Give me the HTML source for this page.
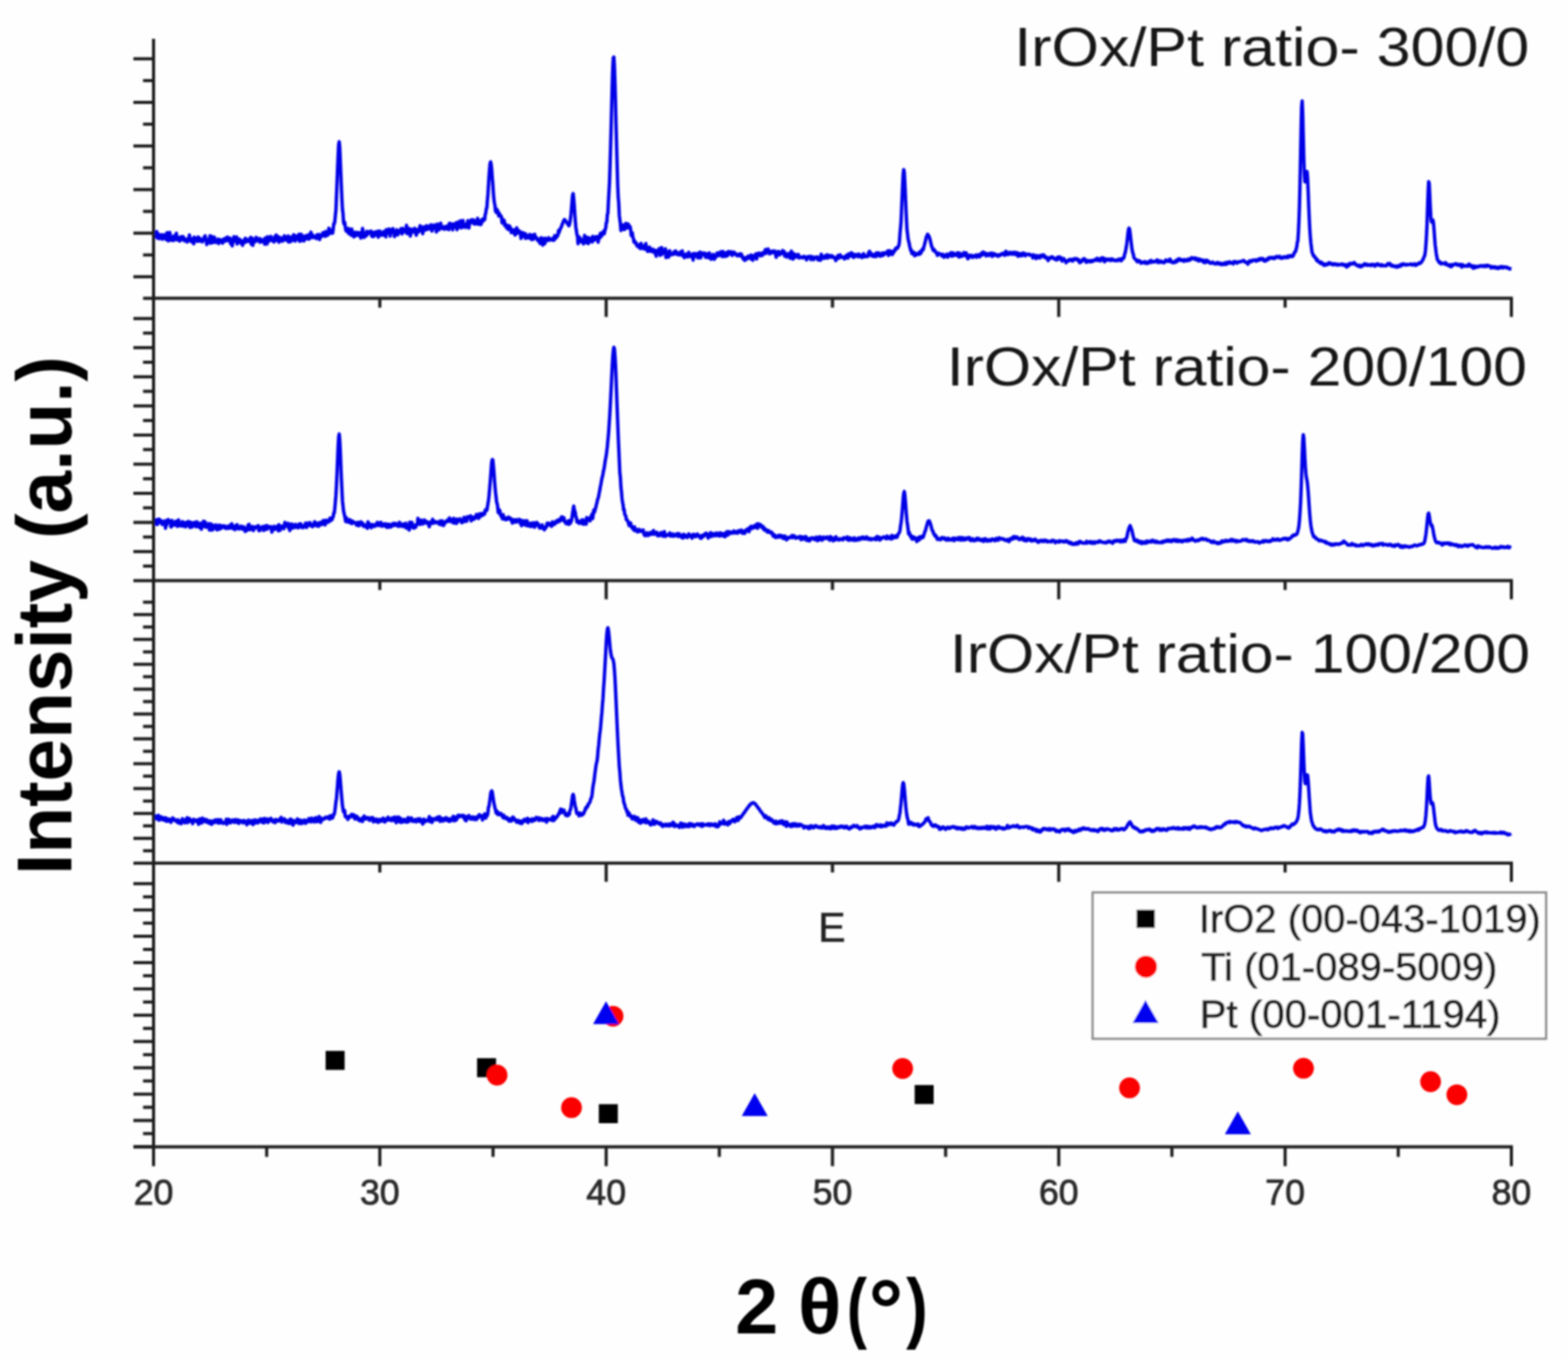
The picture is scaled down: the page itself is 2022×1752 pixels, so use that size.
<!DOCTYPE html><html><head><meta charset="utf-8"><title>XRD patterns</title><style>html,body{margin:0;padding:0;background:#fefefe;}svg{display:block;}</style></head><body><svg width="2022" height="1752" viewBox="0 0 2022 1752"><defs><filter id="soft" x="0" y="0" width="2022" height="1752" filterUnits="userSpaceOnUse" primitiveUnits="userSpaceOnUse"><feGaussianBlur stdDeviation="1.0"/></filter></defs><rect width="2022" height="1752" fill="#fefefe"/><g filter="url(#soft)"><path d="M198.0 305.2L198.7 305.6L199.4 303.4L200.1 302.5L200.8 301.6L201.5 299.6L202.2 298.7L202.9 306.9L203.6 303.2L204.3 301.8L205.0 307.7L205.7 306.0L206.4 303.4L207.1 306.0L207.8 302.7L208.5 304.3L209.2 308.4L209.9 306.4L210.6 302.7L211.3 305.6L212.0 307.0L212.7 303.4L213.4 302.5L214.1 308.8L214.8 302.6L215.5 299.9L216.2 304.2L216.9 310.6L217.6 306.5L218.3 308.0L219.0 299.7L219.7 304.6L220.4 309.6L221.1 305.2L221.8 309.9L222.5 307.3L223.2 306.8L223.9 310.1L224.6 303.9L225.3 303.9L226.0 305.5L226.7 305.9L227.4 300.8L228.1 309.2L228.8 306.7L229.5 306.0L230.2 308.5L230.9 306.0L231.6 310.7L232.3 307.7L233.0 309.6L233.7 305.2L234.4 306.9L235.1 308.7L235.8 305.0L236.5 305.8L237.2 307.4L237.9 310.6L238.6 309.6L239.3 310.0L240.0 308.3L240.7 310.0L241.4 311.9L242.1 308.2L242.8 309.2L243.5 309.8L244.2 302.9L244.9 308.4L245.6 310.0L246.3 311.2L247.0 308.4L247.7 312.1L248.4 307.8L249.1 309.1L249.8 314.3L250.5 305.8L251.2 309.3L251.9 309.0L252.6 309.1L253.3 307.8L254.0 311.0L254.7 306.3L255.4 305.7L256.1 310.8L256.8 306.4L257.5 310.9L258.2 310.2L258.9 308.4L259.6 309.5L260.3 310.3L261.0 311.8L261.7 308.6L262.4 309.6L263.1 305.9L263.8 308.8L264.5 304.0L265.2 309.1L265.9 308.0L266.6 315.2L267.3 313.2L268.0 309.5L268.7 312.9L269.4 311.3L270.1 307.4L270.8 303.9L271.5 313.5L272.2 311.4L272.9 304.8L273.6 311.9L274.3 312.7L275.0 308.3L275.7 312.4L276.4 305.6L277.1 309.7L277.8 310.4L278.5 312.4L279.2 311.3L279.9 310.7L280.6 311.6L281.3 308.2L282.0 314.0L282.7 309.0L283.4 312.1L284.1 309.9L284.8 309.3L285.5 311.6L286.2 311.1L286.9 313.5L287.6 312.8L288.3 308.3L289.0 311.3L289.7 310.2L290.4 307.8L291.1 306.9L291.8 310.5L292.5 308.2L293.2 305.7L293.9 309.3L294.6 310.2L295.3 310.1L296.0 306.7L296.7 308.7L297.4 314.2L298.1 308.5L298.8 309.8L299.5 317.0L300.2 311.6L300.9 309.2L301.6 305.1L302.3 311.1L303.0 306.3L303.7 309.9L304.4 307.6L305.1 305.4L305.8 314.5L306.5 309.7L307.2 312.5L307.9 312.1L308.6 308.2L309.3 310.6L310.0 309.6L310.7 313.5L311.4 312.4L312.1 310.6L312.8 316.3L313.5 313.3L314.2 313.2L314.9 309.6L315.6 312.5L316.3 307.1L317.0 312.1L317.7 308.1L318.4 310.9L319.1 309.5L319.8 310.9L320.5 311.3L321.2 310.3L321.9 310.5L322.6 306.9L323.3 306.0L324.0 314.8L324.7 313.0L325.4 307.3L326.1 316.4L326.8 308.9L327.5 311.8L328.2 311.3L328.9 310.1L329.6 311.4L330.3 305.9L331.0 309.5L331.7 308.9L332.4 309.8L333.1 308.7L333.8 307.8L334.5 307.7L335.2 312.3L335.9 307.9L336.6 311.5L337.3 311.6L338.0 310.5L338.7 311.8L339.4 311.9L340.1 308.7L340.8 310.8L341.5 314.8L342.2 306.6L342.9 308.6L343.6 307.3L344.3 314.6L345.0 305.3L345.7 309.0L346.4 311.3L347.1 306.3L347.8 308.1L348.5 306.6L349.2 304.9L349.9 308.4L350.6 310.1L351.3 307.8L352.0 309.3L352.7 310.7L353.4 311.9L354.1 305.2L354.8 310.0L355.5 306.5L356.2 303.0L356.9 305.9L357.6 309.8L358.3 308.9L359.0 305.1L359.7 312.4L360.4 309.1L361.1 307.8L361.8 306.5L362.5 309.1L363.2 306.9L363.9 311.0L364.6 308.8L365.3 309.6L366.0 307.1L366.7 304.0L367.4 309.5L368.1 305.4L368.8 307.8L369.5 308.0L370.2 306.0L370.9 310.5L371.6 304.3L372.3 312.1L373.0 306.6L373.7 310.7L374.4 311.5L375.1 305.7L375.8 305.9L376.5 310.4L377.2 308.3L377.9 307.9L378.6 302.6L379.3 302.9L380.0 308.6L380.7 310.7L381.4 304.8L382.1 304.4L382.8 307.3L383.5 308.1L384.2 308.5L384.9 305.9L385.6 302.0L386.3 311.1L387.0 305.9L387.7 310.7L388.4 302.0L389.1 308.4L389.8 306.0L390.5 304.4L391.2 309.7L391.9 310.5L392.6 305.3L393.3 308.6L394.0 303.9L394.7 305.0L395.4 305.9L396.1 305.4L396.8 307.8L397.5 302.7L398.2 308.3L398.9 308.1L399.6 304.9L400.3 302.3L401.0 299.3L401.7 305.6L402.4 304.1L403.1 306.3L403.8 303.3L404.5 306.0L405.2 305.7L405.9 305.8L406.6 306.3L407.3 306.1L408.0 307.6L408.7 302.7L409.4 306.5L410.1 305.1L410.8 303.6L411.5 302.2L412.2 308.9L412.9 305.7L413.6 303.7L414.3 305.0L415.0 304.5L415.7 302.7L416.4 300.0L417.1 303.5L417.8 302.3L418.5 301.6L419.2 304.7L419.9 298.4L420.6 299.2L421.3 302.0L422.0 303.5L422.7 302.5L423.4 302.4L424.1 294.3L424.8 300.9L425.5 300.3L426.2 300.7L426.9 296.7L427.6 299.4L428.3 299.9L429.0 300.4L429.7 295.2L430.4 288.5L431.1 288.6L431.8 284.9L432.5 277.2L433.2 270.8L433.9 252.5L434.6 235.8L435.3 217.9L436.0 201.0L436.7 186.7L437.4 182.6L438.1 189.7L438.8 206.0L439.5 223.6L440.2 240.8L440.9 256.8L441.6 269.9L442.3 274.7L443.0 286.0L443.7 289.1L444.4 286.3L445.1 290.9L445.8 296.3L446.5 298.0L447.2 296.9L447.9 295.7L448.6 299.5L449.3 294.5L450.0 301.2L450.7 299.7L451.4 300.4L452.1 299.0L452.8 303.2L453.5 295.1L454.2 299.1L454.9 303.1L455.6 299.8L456.3 305.4L457.0 302.6L457.7 299.4L458.4 304.1L459.1 300.9L459.8 302.6L460.5 299.6L461.2 299.8L461.9 303.5L462.6 302.2L463.3 300.2L464.0 300.0L464.7 304.0L465.4 306.9L466.1 300.0L466.8 303.8L467.5 294.4L468.2 298.4L468.9 303.7L469.6 306.1L470.3 302.1L471.0 303.2L471.7 302.2L472.4 303.9L473.1 298.1L473.8 302.3L474.5 299.3L475.2 299.5L475.9 300.3L476.6 299.7L477.3 298.3L478.0 299.7L478.7 298.0L479.4 304.5L480.1 302.6L480.8 299.9L481.5 305.1L482.2 304.2L482.9 301.9L483.6 298.9L484.3 300.6L485.0 301.1L485.7 303.0L486.4 298.9L487.1 298.0L487.8 305.7L488.5 303.6L489.2 301.0L489.9 297.9L490.6 301.6L491.3 303.2L492.0 302.2L492.7 302.3L493.4 300.2L494.1 303.0L494.8 298.5L495.5 298.9L496.2 298.8L496.9 298.5L497.6 305.3L498.3 295.9L499.0 300.9L499.7 297.6L500.4 296.7L501.1 299.9L501.8 295.2L502.5 298.6L503.2 304.4L503.9 297.9L504.6 299.2L505.3 295.9L506.0 299.5L506.7 294.7L507.4 299.4L508.1 298.9L508.8 305.0L509.5 299.3L510.2 298.6L510.9 298.1L511.6 296.3L512.3 301.3L513.0 302.8L513.7 297.7L514.4 300.2L515.1 297.2L515.8 299.1L516.5 299.4L517.2 294.8L517.9 296.8L518.6 301.6L519.3 294.4L520.0 299.3L520.7 298.2L521.4 296.4L522.1 298.5L522.8 298.8L523.5 299.0L524.2 290.4L524.9 301.2L525.6 295.4L526.3 299.1L527.0 295.9L527.7 294.6L528.4 295.9L529.1 304.3L529.8 300.2L530.5 295.4L531.2 297.0L531.9 299.4L532.6 298.1L533.3 296.9L534.0 296.4L534.7 294.3L535.4 299.3L536.1 300.3L536.8 303.3L537.5 295.9L538.2 298.7L538.9 296.5L539.6 299.3L540.3 295.5L541.0 293.8L541.7 291.0L542.4 297.1L543.1 295.5L543.8 297.8L544.5 293.3L545.2 301.2L545.9 292.4L546.6 295.4L547.3 295.0L548.0 296.7L548.7 293.4L549.4 291.4L550.1 291.1L550.8 295.8L551.5 294.1L552.2 294.8L552.9 291.8L553.6 294.3L554.3 294.4L555.0 295.3L555.7 289.8L556.4 291.5L557.1 297.9L557.8 292.4L558.5 293.3L559.2 292.6L559.9 289.9L560.6 291.0L561.3 294.8L562.0 292.1L562.7 299.1L563.4 290.1L564.1 288.9L564.8 292.7L565.5 290.2L566.2 296.4L566.9 291.2L567.6 293.0L568.3 287.7L569.0 292.9L569.7 292.9L570.4 294.7L571.1 292.4L571.8 293.6L572.5 293.2L573.2 295.5L573.9 292.3L574.6 294.9L575.3 291.9L576.0 295.0L576.7 292.2L577.4 291.0L578.1 290.7L578.8 296.0L579.5 288.0L580.2 287.9L580.9 293.1L581.6 288.6L582.3 289.6L583.0 289.4L583.7 296.4L584.4 288.8L585.1 288.9L585.8 290.0L586.5 291.8L587.2 292.6L587.9 287.5L588.6 292.4L589.3 296.2L590.0 286.5L590.7 292.6L591.4 293.0L592.1 291.3L592.8 290.3L593.5 284.6L594.2 293.6L594.9 289.6L595.6 289.8L596.3 293.4L597.0 284.2L597.7 289.8L598.4 291.1L599.1 291.0L599.8 290.1L600.5 293.3L601.2 288.6L601.9 290.4L602.6 290.0L603.3 284.5L604.0 286.6L604.7 294.0L605.4 287.8L606.1 288.1L606.8 284.4L607.5 286.4L608.2 283.3L608.9 284.7L609.6 287.2L610.3 283.5L611.0 283.9L611.7 288.9L612.4 286.8L613.1 287.1L613.8 288.5L614.5 284.8L615.2 285.5L615.9 281.5L616.6 289.0L617.3 286.8L618.0 287.6L618.7 285.0L619.4 289.5L620.1 289.4L620.8 288.0L621.5 282.9L622.2 284.0L622.9 285.1L623.6 281.9L624.3 283.6L625.0 283.3L625.7 276.5L626.4 274.7L627.1 269.1L627.8 267.9L628.5 258.4L629.2 250.7L629.9 238.8L630.6 227.4L631.3 218.3L632.0 210.8L632.7 208.7L633.4 212.4L634.1 218.8L634.8 229.1L635.5 237.2L636.2 248.3L636.9 256.6L637.6 261.6L638.3 265.0L639.0 272.5L639.7 269.1L640.4 274.3L641.1 270.3L641.8 272.0L642.5 273.4L643.2 278.5L643.9 275.2L644.6 276.7L645.3 277.6L646.0 278.7L646.7 279.5L647.4 287.1L648.1 287.5L648.8 283.2L649.5 286.5L650.2 284.2L650.9 290.8L651.6 291.4L652.3 291.1L653.0 289.7L653.7 294.5L654.4 294.7L655.1 293.2L655.8 295.9L656.5 291.0L657.2 293.3L657.9 292.7L658.6 295.6L659.3 299.8L660.0 296.0L660.7 299.1L661.4 296.6L662.1 296.3L662.8 300.6L663.5 300.1L664.2 303.0L664.9 302.3L665.6 298.0L666.3 293.7L667.0 300.5L667.7 297.3L668.4 297.0L669.1 297.1L669.8 299.6L670.5 301.1L671.2 301.9L671.9 307.4L672.6 299.5L673.3 302.8L674.0 300.0L674.7 300.9L675.4 304.0L676.1 305.1L676.8 301.0L677.5 307.2L678.2 302.0L678.9 306.7L679.6 304.1L680.3 306.7L681.0 306.2L681.7 304.4L682.4 306.7L683.1 302.3L683.8 302.5L684.5 304.7L685.2 308.7L685.9 303.1L686.6 303.2L687.3 308.7L688.0 304.6L688.7 304.5L689.4 302.1L690.1 305.2L690.8 306.9L691.5 305.8L692.2 308.4L692.9 308.0L693.6 310.4L694.3 310.4L695.0 308.6L695.7 311.4L696.4 314.0L697.1 310.2L697.8 306.4L698.5 309.8L699.2 308.9L699.9 316.1L700.6 311.8L701.3 307.4L702.0 309.8L702.7 314.0L703.4 307.3L704.1 308.7L704.8 309.7L705.5 309.2L706.2 308.1L706.9 310.1L707.6 306.5L708.3 308.8L709.0 308.8L709.7 309.3L710.4 309.0L711.1 309.3L711.8 308.0L712.5 307.4L713.2 308.9L713.9 309.8L714.6 309.4L715.3 303.7L716.0 306.6L716.7 307.3L717.4 304.3L718.1 305.5L718.8 303.0L719.5 303.4L720.2 297.3L720.9 299.8L721.6 297.6L722.3 295.6L723.0 294.0L723.7 292.9L724.4 291.0L725.1 288.8L725.8 287.5L726.5 285.4L727.2 283.9L727.9 283.0L728.6 284.1L729.3 284.5L730.0 285.4L730.7 286.5L731.4 288.3L732.1 288.2L732.8 289.2L733.5 291.1L734.2 289.8L734.9 287.1L735.6 282.0L736.3 276.4L737.0 268.4L737.7 259.2L738.4 251.7L739.1 249.5L739.8 255.7L740.5 264.2L741.2 275.6L741.9 284.9L742.6 293.0L743.3 297.3L744.0 302.7L744.7 303.7L745.4 314.2L746.1 308.1L746.8 305.4L747.5 307.8L748.2 307.4L748.9 310.7L749.6 311.7L750.3 310.7L751.0 309.8L751.7 308.9L752.4 314.4L753.1 313.2L753.8 303.4L754.5 310.2L755.2 307.7L755.9 308.5L756.6 313.0L757.3 306.0L758.0 306.0L758.7 314.0L759.4 307.0L760.1 307.6L760.8 311.0L761.5 307.3L762.2 308.8L762.9 309.3L763.6 312.0L764.3 304.7L765.0 306.3L765.7 307.6L766.4 309.7L767.1 305.7L767.8 307.9L768.5 305.2L769.2 305.1L769.9 308.6L770.6 304.9L771.3 312.3L772.0 306.1L772.7 307.7L773.4 306.6L774.1 300.9L774.8 300.6L775.5 304.8L776.2 300.5L776.9 301.0L777.6 300.6L778.3 298.1L779.0 301.7L779.7 299.1L780.4 295.7L781.1 293.9L781.8 287.1L782.5 286.7L783.2 276.8L783.9 274.7L784.6 259.6L785.3 247.1L786.0 235.0L786.7 212.9L787.4 188.8L788.1 163.6L788.8 135.7L789.5 109.0L790.2 87.3L790.9 74.2L791.6 73.5L792.3 84.8L793.0 105.8L793.7 131.9L794.4 160.7L795.1 186.0L795.8 211.3L796.5 236.7L797.2 253.6L797.9 261.9L798.6 277.4L799.3 283.0L800.0 288.3L800.7 297.2L801.4 292.6L802.1 295.0L802.8 291.8L803.5 290.0L804.2 295.7L804.9 295.8L805.6 295.8L806.3 294.0L807.0 287.9L807.7 292.3L808.4 293.3L809.1 294.0L809.8 288.6L810.5 289.4L811.2 291.1L811.9 292.8L812.6 292.4L813.3 296.4L814.0 303.6L814.7 299.8L815.4 300.2L816.1 305.9L816.8 307.4L817.5 312.0L818.2 310.4L818.9 313.0L819.6 312.6L820.3 313.1L821.0 316.7L821.7 316.7L822.4 316.7L823.1 318.4L823.8 315.7L824.5 317.7L825.2 318.2L825.9 320.5L826.6 313.8L827.3 317.4L828.0 319.5L828.7 317.6L829.4 319.4L830.1 320.9L830.8 320.7L831.5 316.0L832.2 317.3L832.9 313.9L833.6 321.8L834.3 321.2L835.0 324.0L835.7 321.4L836.4 318.9L837.1 323.9L837.8 318.7L838.5 321.7L839.2 321.4L839.9 323.8L840.6 324.4L841.3 321.8L842.0 321.4L842.7 323.2L843.4 322.4L844.1 326.0L844.8 325.0L845.5 327.5L846.2 330.3L846.9 322.8L847.6 323.3L848.3 325.5L849.0 325.1L849.7 323.3L850.4 320.3L851.1 329.4L851.8 324.2L852.5 321.7L853.2 319.2L853.9 327.7L854.6 325.6L855.3 325.1L856.0 323.0L856.7 325.2L857.4 324.9L858.1 320.7L858.8 332.1L859.5 327.6L860.2 326.0L860.9 324.6L861.6 325.2L862.3 331.5L863.0 327.0L863.7 323.3L864.4 328.2L865.1 327.7L865.8 328.2L866.5 327.1L867.2 327.2L867.9 328.0L868.6 327.0L869.3 324.4L870.0 325.1L870.7 327.1L871.4 323.6L872.1 326.6L872.8 326.1L873.5 328.3L874.2 327.0L874.9 326.0L875.6 326.0L876.3 327.6L877.0 328.8L877.7 324.9L878.4 324.3L879.1 326.3L879.8 323.5L880.5 327.1L881.2 330.7L881.9 331.1L882.6 332.2L883.3 329.0L884.0 329.2L884.7 327.6L885.4 327.9L886.1 329.8L886.8 331.2L887.5 330.3L888.2 325.2L888.9 330.5L889.6 329.6L890.3 328.4L891.0 329.9L891.7 331.2L892.4 329.4L893.1 327.2L893.8 335.3L894.5 326.9L895.2 329.1L895.9 330.9L896.6 326.8L897.3 330.0L898.0 327.4L898.7 328.7L899.4 327.6L900.1 332.6L900.8 326.1L901.5 329.9L902.2 329.0L902.9 324.9L903.6 332.5L904.3 327.6L905.0 328.1L905.7 328.8L906.4 326.2L907.1 326.3L907.8 327.9L908.5 326.4L909.2 328.9L909.9 331.8L910.6 327.7L911.3 327.0L912.0 330.3L912.7 331.6L913.4 332.2L914.1 328.6L914.8 326.1L915.5 332.7L916.2 332.5L916.9 334.2L917.6 329.4L918.3 332.5L919.0 333.5L919.7 327.9L920.4 333.6L921.1 334.2L921.8 332.3L922.5 331.9L923.2 331.8L923.9 329.2L924.6 326.2L925.3 326.7L926.0 327.7L926.7 326.1L927.4 329.7L928.1 326.9L928.8 327.7L929.5 324.6L930.2 329.0L930.9 326.7L931.6 330.9L932.3 324.3L933.0 328.1L933.7 326.5L934.4 326.5L935.1 330.6L935.8 329.2L936.5 325.7L937.2 330.1L937.9 326.2L938.6 329.0L939.3 324.1L940.0 326.9L940.7 327.0L941.4 327.1L942.1 324.9L942.8 324.5L943.5 328.2L944.2 329.3L944.9 327.9L945.6 327.2L946.3 324.9L947.0 327.3L947.7 326.8L948.4 326.7L949.1 328.6L949.8 328.9L950.5 329.6L951.2 328.7L951.9 328.0L952.6 329.5L953.3 329.5L954.0 327.2L954.7 329.9L955.4 327.8L956.1 327.6L956.8 330.2L957.5 331.0L958.2 333.8L958.9 332.1L959.6 333.9L960.3 335.7L961.0 333.3L961.7 333.9L962.4 331.7L963.1 334.2L963.8 332.5L964.5 332.3L965.2 329.9L965.9 330.2L966.6 330.6L967.3 332.0L968.0 333.8L968.7 328.8L969.4 330.9L970.1 330.8L970.8 335.5L971.5 330.7L972.2 329.9L972.9 332.1L973.6 328.5L974.3 331.5L975.0 327.2L975.7 333.9L976.4 329.7L977.1 328.5L977.8 326.4L978.5 328.2L979.2 328.3L979.9 326.6L980.6 329.9L981.3 326.8L982.0 327.4L982.7 327.5L983.4 329.1L984.1 325.6L984.8 326.2L985.5 326.3L986.2 326.5L986.9 321.7L987.6 326.9L988.3 324.3L989.0 323.0L989.7 324.2L990.4 320.9L991.1 323.2L991.8 325.1L992.5 327.3L993.2 324.6L993.9 325.3L994.6 324.0L995.3 326.0L996.0 323.8L996.7 325.6L997.4 324.4L998.1 323.5L998.8 323.7L999.5 324.6L1000.2 328.0L1000.9 331.7L1001.6 325.6L1002.3 324.5L1003.0 326.6L1003.7 326.3L1004.4 324.3L1005.1 328.7L1005.8 326.8L1006.5 326.9L1007.2 325.3L1007.9 325.4L1008.6 326.9L1009.3 322.9L1010.0 324.3L1010.7 326.4L1011.4 324.3L1012.1 330.4L1012.8 327.0L1013.5 327.7L1014.2 329.3L1014.9 331.4L1015.6 328.6L1016.3 327.2L1017.0 326.8L1017.7 328.9L1018.4 327.6L1019.1 333.0L1019.8 331.3L1020.5 323.8L1021.2 328.0L1021.9 330.5L1022.6 334.1L1023.3 326.6L1024.0 329.3L1024.7 332.0L1025.4 328.5L1026.1 329.8L1026.8 328.9L1027.5 331.1L1028.2 328.3L1028.9 330.5L1029.6 328.1L1030.3 332.6L1031.0 332.2L1031.7 331.4L1032.4 331.8L1033.1 332.0L1033.8 331.3L1034.5 332.2L1035.2 332.4L1035.9 331.5L1036.6 330.6L1037.3 331.0L1038.0 330.9L1038.7 332.6L1039.4 332.1L1040.1 335.1L1040.8 331.5L1041.5 331.9L1042.2 330.8L1042.9 332.1L1043.6 331.2L1044.3 330.5L1045.0 332.2L1045.7 334.7L1046.4 330.6L1047.1 331.1L1047.8 332.3L1048.5 332.9L1049.2 334.8L1049.9 331.7L1050.6 332.6L1051.3 331.6L1052.0 331.6L1052.7 332.3L1053.4 331.2L1054.1 333.9L1054.8 334.8L1055.5 332.1L1056.2 331.8L1056.9 335.3L1057.6 332.7L1058.3 335.4L1059.0 327.8L1059.7 331.9L1060.4 330.1L1061.1 330.5L1061.8 332.6L1062.5 333.0L1063.2 330.9L1063.9 332.8L1064.6 329.4L1065.3 331.7L1066.0 331.0L1066.7 328.4L1067.4 332.7L1068.1 330.0L1068.8 331.6L1069.5 329.4L1070.2 330.7L1070.9 331.3L1071.6 330.2L1072.3 329.5L1073.0 331.6L1073.7 331.3L1074.4 330.7L1075.1 332.0L1075.8 332.2L1076.5 332.2L1077.2 334.5L1077.9 335.9L1078.6 332.1L1079.3 332.4L1080.0 330.6L1080.7 329.4L1081.4 333.0L1082.1 329.8L1082.8 331.3L1083.5 328.6L1084.2 329.8L1084.9 331.7L1085.6 331.7L1086.3 331.4L1087.0 331.6L1087.7 331.3L1088.4 332.6L1089.1 333.8L1089.8 331.9L1090.5 330.9L1091.2 329.3L1091.9 330.1L1092.6 330.2L1093.3 332.8L1094.0 327.5L1094.7 328.3L1095.4 327.5L1096.1 330.3L1096.8 327.7L1097.5 326.0L1098.2 325.9L1098.9 330.0L1099.6 327.1L1100.3 331.7L1101.0 331.8L1101.7 328.4L1102.4 329.7L1103.1 330.4L1103.8 328.0L1104.5 328.5L1105.2 329.5L1105.9 330.5L1106.6 331.0L1107.3 327.5L1108.0 330.7L1108.7 329.9L1109.4 329.5L1110.1 329.0L1110.8 331.2L1111.5 332.0L1112.2 328.7L1112.9 329.2L1113.6 327.0L1114.3 329.1L1115.0 331.0L1115.7 329.9L1116.4 330.6L1117.1 329.9L1117.8 330.0L1118.5 330.7L1119.2 330.6L1119.9 326.0L1120.6 328.4L1121.3 323.9L1122.0 328.1L1122.7 327.0L1123.4 326.7L1124.1 330.0L1124.8 328.3L1125.5 329.7L1126.2 329.1L1126.9 330.8L1127.6 327.8L1128.3 327.6L1129.0 327.4L1129.7 330.8L1130.4 325.9L1131.1 326.3L1131.8 328.2L1132.5 327.7L1133.2 326.0L1133.9 329.9L1134.6 328.5L1135.3 330.3L1136.0 329.1L1136.7 329.2L1137.4 326.6L1138.1 329.6L1138.8 326.1L1139.5 327.0L1140.2 328.3L1140.9 325.9L1141.6 326.4L1142.3 326.1L1143.0 326.2L1143.7 326.8L1144.4 323.7L1145.1 325.3L1145.8 329.3L1146.5 323.3L1147.2 325.4L1147.9 327.6L1148.6 323.7L1149.3 325.0L1150.0 324.9L1150.7 328.2L1151.4 324.2L1152.1 325.9L1152.8 323.4L1153.5 323.8L1154.2 321.5L1154.9 320.4L1155.6 321.3L1156.3 319.3L1157.0 320.1L1157.7 319.2L1158.4 317.7L1159.1 316.5L1159.8 312.1L1160.5 302.3L1161.2 294.2L1161.9 286.5L1162.6 270.7L1163.3 254.5L1164.0 238.5L1164.7 224.3L1165.4 218.6L1166.1 221.9L1166.8 234.7L1167.5 250.5L1168.2 267.5L1168.9 282.3L1169.6 295.9L1170.3 301.2L1171.0 308.0L1171.7 310.9L1172.4 313.5L1173.1 317.5L1173.8 320.2L1174.5 323.3L1175.2 322.2L1175.9 326.8L1176.6 325.4L1177.3 327.3L1178.0 326.3L1178.7 325.3L1179.4 329.7L1180.1 327.1L1180.8 329.1L1181.5 327.0L1182.2 328.3L1182.9 327.3L1183.6 326.9L1184.3 327.0L1185.0 327.9L1185.7 324.8L1186.4 324.8L1187.1 327.1L1187.8 324.1L1188.5 324.6L1189.2 321.5L1189.9 321.8L1190.6 321.9L1191.3 318.3L1192.0 316.1L1192.7 313.3L1193.4 310.7L1194.1 307.3L1194.8 304.9L1195.5 303.7L1196.2 302.0L1196.9 303.1L1197.6 304.1L1198.3 305.3L1199.0 307.5L1199.7 310.1L1200.4 313.7L1201.1 316.1L1201.8 318.8L1202.5 319.6L1203.2 322.6L1203.9 323.0L1204.6 321.6L1205.3 323.7L1206.0 323.7L1206.7 325.3L1207.4 325.8L1208.1 326.7L1208.8 329.3L1209.5 327.0L1210.2 326.3L1210.9 327.2L1211.6 327.5L1212.3 327.4L1213.0 328.0L1213.7 327.7L1214.4 329.9L1215.1 329.8L1215.8 327.9L1216.5 330.7L1217.2 331.6L1217.9 329.9L1218.6 328.8L1219.3 330.5L1220.0 329.5L1220.7 329.7L1221.4 327.6L1222.1 331.6L1222.8 328.5L1223.5 329.5L1224.2 328.2L1224.9 329.4L1225.6 326.2L1226.3 327.6L1227.0 325.9L1227.7 330.3L1228.4 326.8L1229.1 326.2L1229.8 329.4L1230.5 327.0L1231.2 327.4L1231.9 329.0L1232.6 328.3L1233.3 328.2L1234.0 328.9L1234.7 325.8L1235.4 330.3L1236.1 330.6L1236.8 331.4L1237.5 326.2L1238.2 327.8L1238.9 327.9L1239.6 330.6L1240.3 328.8L1241.0 330.1L1241.7 328.2L1242.4 326.6L1243.1 325.6L1243.8 326.6L1244.5 329.4L1245.2 326.8L1245.9 326.0L1246.6 329.4L1247.3 331.5L1248.0 333.6L1248.7 332.5L1249.4 332.5L1250.1 328.9L1250.8 330.5L1251.5 330.3L1252.2 330.7L1252.9 329.2L1253.6 331.3L1254.3 331.9L1255.0 330.3L1255.7 329.7L1256.4 330.2L1257.1 330.3L1257.8 330.8L1258.5 328.7L1259.2 331.7L1259.9 329.8L1260.6 329.5L1261.3 330.4L1262.0 328.3L1262.7 329.9L1263.4 331.1L1264.1 328.5L1264.8 327.8L1265.5 326.6L1266.2 328.9L1266.9 328.3L1267.6 324.9L1268.3 328.1L1269.0 326.3L1269.7 326.0L1270.4 327.8L1271.1 327.4L1271.8 329.9L1272.5 327.0L1273.2 327.0L1273.9 327.5L1274.6 328.5L1275.3 329.3L1276.0 327.2L1276.7 327.6L1277.4 326.4L1278.1 327.9L1278.8 326.7L1279.5 330.6L1280.2 330.2L1280.9 326.6L1281.6 328.0L1282.3 328.5L1283.0 327.5L1283.7 328.0L1284.4 329.5L1285.1 328.5L1285.8 328.6L1286.5 328.9L1287.2 330.4L1287.9 328.5L1288.6 329.1L1289.3 328.8L1290.0 329.1L1290.7 327.8L1291.4 327.3L1292.1 326.9L1292.8 327.8L1293.5 327.4L1294.2 326.6L1294.9 326.9L1295.6 329.2L1296.3 327.1L1297.0 324.0L1297.7 327.9L1298.4 326.7L1299.1 325.4L1299.8 328.3L1300.5 326.5L1301.2 327.6L1301.9 325.4L1302.6 327.3L1303.3 325.8L1304.0 327.4L1304.7 327.6L1305.4 325.5L1306.1 327.5L1306.8 327.8L1307.5 327.3L1308.2 325.2L1308.9 327.5L1309.6 326.7L1310.3 328.4L1311.0 325.7L1311.7 328.1L1312.4 327.3L1313.1 330.4L1313.8 326.6L1314.5 329.2L1315.2 327.7L1315.9 327.3L1316.6 329.7L1317.3 329.1L1318.0 329.5L1318.7 326.2L1319.4 326.5L1320.1 328.4L1320.8 326.6L1321.5 329.1L1322.2 329.6L1322.9 327.6L1323.6 328.0L1324.3 328.1L1325.0 327.8L1325.7 328.1L1326.4 327.8L1327.1 328.7L1327.8 328.0L1328.5 328.1L1329.2 328.8L1329.9 328.9L1330.6 329.8L1331.3 330.7L1332.0 332.6L1332.7 328.5L1333.4 329.0L1334.1 330.7L1334.8 331.0L1335.5 331.1L1336.2 333.5L1336.9 329.4L1337.6 331.3L1338.3 330.1L1339.0 331.2L1339.7 332.1L1340.4 329.8L1341.1 332.5L1341.8 330.2L1342.5 329.8L1343.2 328.8L1343.9 329.6L1344.6 329.3L1345.3 331.0L1346.0 328.5L1346.7 330.7L1347.4 331.8L1348.1 331.1L1348.8 332.7L1349.5 331.5L1350.2 333.2L1350.9 332.8L1351.6 335.9L1352.3 333.2L1353.0 332.9L1353.7 333.3L1354.4 331.7L1355.1 331.5L1355.8 331.8L1356.5 332.4L1357.2 331.1L1357.9 332.2L1358.6 332.4L1359.3 333.7L1360.0 334.0L1360.7 333.6L1361.4 333.5L1362.1 335.1L1362.8 332.2L1363.5 334.8L1364.2 333.5L1364.9 331.2L1365.6 333.1L1366.3 331.6L1367.0 333.4L1367.7 331.7L1368.4 335.1L1369.1 333.8L1369.8 336.6L1370.5 334.0L1371.2 334.9L1371.9 333.4L1372.6 334.9L1373.3 335.3L1374.0 336.2L1374.7 338.7L1375.4 338.0L1376.1 337.2L1376.8 336.0L1377.5 335.8L1378.2 335.5L1378.9 334.6L1379.6 335.9L1380.3 334.9L1381.0 335.3L1381.7 334.4L1382.4 335.1L1383.1 336.5L1383.8 335.0L1384.5 335.4L1385.2 333.4L1385.9 333.9L1386.6 333.5L1387.3 334.4L1388.0 334.4L1388.7 333.7L1389.4 335.3L1390.1 335.8L1390.8 334.7L1391.5 336.9L1392.2 338.5L1392.9 336.3L1393.6 338.2L1394.3 337.3L1395.0 336.2L1395.7 335.9L1396.4 334.2L1397.1 335.6L1397.8 333.4L1398.5 333.9L1399.2 336.0L1399.9 334.6L1400.6 338.2L1401.3 336.8L1402.0 337.5L1402.7 337.6L1403.4 336.1L1404.1 336.4L1404.8 336.7L1405.5 336.1L1406.2 337.6L1406.9 337.0L1407.6 336.0L1408.3 337.1L1409.0 335.9L1409.7 336.7L1410.4 336.1L1411.1 335.6L1411.8 334.8L1412.5 334.8L1413.2 335.4L1413.9 335.6L1414.6 332.9L1415.3 334.6L1416.0 335.7L1416.7 334.9L1417.4 334.0L1418.1 334.0L1418.8 336.5L1419.5 333.1L1420.2 334.1L1420.9 335.1L1421.6 332.2L1422.3 334.9L1423.0 332.8L1423.7 335.5L1424.4 337.4L1425.1 333.7L1425.8 334.9L1426.5 335.4L1427.2 334.4L1427.9 335.4L1428.6 334.1L1429.3 334.2L1430.0 334.0L1430.7 334.8L1431.4 335.4L1432.1 335.9L1432.8 334.8L1433.5 333.7L1434.2 334.3L1434.9 334.3L1435.6 334.6L1436.3 335.8L1437.0 335.4L1437.7 335.9L1438.4 335.9L1439.1 335.8L1439.8 335.3L1440.5 336.2L1441.2 335.2L1441.9 335.1L1442.6 334.1L1443.3 334.6L1444.0 334.8L1444.7 336.0L1445.4 333.7L1446.1 335.9L1446.8 334.9L1447.5 333.6L1448.2 332.7L1448.9 333.0L1449.6 331.3L1450.3 327.3L1451.0 325.9L1451.7 322.1L1452.4 318.5L1453.1 313.6L1453.8 307.7L1454.5 301.2L1455.2 296.1L1455.9 294.1L1456.6 295.3L1457.3 300.0L1458.0 306.5L1458.7 312.6L1459.4 318.2L1460.1 323.2L1460.8 326.1L1461.5 327.9L1462.2 331.9L1462.9 333.1L1463.6 333.9L1464.3 334.2L1465.0 335.4L1465.7 335.7L1466.4 337.4L1467.1 335.6L1467.8 337.2L1468.5 337.0L1469.2 336.0L1469.9 337.7L1470.6 337.0L1471.3 339.3L1472.0 339.1L1472.7 338.3L1473.4 338.2L1474.1 338.0L1474.8 338.0L1475.5 338.9L1476.2 337.2L1476.9 339.3L1477.6 338.9L1478.3 338.0L1479.0 338.5L1479.7 339.7L1480.4 337.7L1481.1 338.9L1481.8 337.0L1482.5 336.8L1483.2 338.3L1483.9 335.7L1484.6 338.3L1485.3 337.3L1486.0 336.7L1486.7 337.1L1487.4 336.9L1488.1 337.8L1488.8 337.4L1489.5 336.9L1490.2 336.6L1490.9 336.1L1491.6 337.3L1492.3 335.0L1493.0 338.3L1493.7 337.6L1494.4 336.3L1495.1 338.3L1495.8 337.2L1496.5 337.6L1497.2 336.5L1497.9 337.4L1498.6 338.2L1499.3 338.0L1500.0 338.4L1500.7 337.5L1501.4 338.6L1502.1 336.8L1502.8 337.3L1503.5 335.1L1504.2 336.7L1504.9 336.1L1505.6 336.1L1506.3 336.4L1507.0 336.9L1507.7 334.7L1508.4 335.5L1509.1 334.1L1509.8 337.6L1510.5 337.6L1511.2 337.4L1511.9 338.5L1512.6 338.6L1513.3 337.5L1514.0 338.5L1514.7 338.5L1515.4 337.6L1516.1 336.3L1516.8 335.6L1517.5 337.5L1518.2 335.5L1518.9 335.5L1519.6 333.7L1520.3 335.3L1521.0 334.8L1521.7 333.9L1522.4 335.7L1523.1 334.9L1523.8 335.7L1524.5 335.8L1525.2 335.0L1525.9 335.9L1526.6 336.8L1527.3 334.8L1528.0 334.9L1528.7 335.0L1529.4 336.3L1530.1 335.2L1530.8 335.6L1531.5 336.0L1532.2 333.9L1532.9 335.7L1533.6 334.3L1534.3 333.9L1535.0 335.0L1535.7 333.9L1536.4 332.3L1537.1 333.1L1537.8 332.5L1538.5 333.2L1539.2 332.7L1539.9 333.0L1540.6 334.3L1541.3 332.5L1542.0 334.5L1542.7 334.5L1543.4 335.3L1544.1 333.4L1544.8 334.6L1545.5 335.0L1546.2 336.5L1546.9 334.1L1547.6 334.3L1548.3 335.2L1549.0 335.8L1549.7 335.4L1550.4 336.3L1551.1 335.2L1551.8 337.9L1552.5 336.4L1553.2 336.7L1553.9 338.6L1554.6 335.9L1555.3 335.3L1556.0 335.5L1556.7 337.7L1557.4 336.6L1558.1 336.5L1558.8 337.6L1559.5 338.0L1560.2 339.2L1560.9 339.3L1561.6 339.2L1562.3 339.3L1563.0 338.3L1563.7 337.9L1564.4 339.3L1565.1 339.6L1565.8 339.6L1566.5 339.9L1567.2 340.3L1567.9 339.1L1568.6 339.6L1569.3 339.2L1570.0 338.4L1570.7 340.1L1571.4 339.5L1572.1 340.0L1572.8 340.2L1573.5 339.1L1574.2 341.0L1574.9 340.2L1575.6 340.8L1576.3 341.2L1577.0 339.6L1577.7 339.5L1578.4 340.1L1579.1 340.8L1579.8 340.8L1580.5 338.4L1581.2 340.8L1581.9 339.3L1582.6 339.8L1583.3 338.3L1584.0 338.5L1584.7 339.2L1585.4 337.5L1586.1 339.2L1586.8 338.2L1587.5 338.7L1588.2 338.7L1588.9 338.2L1589.6 339.6L1590.3 340.3L1591.0 339.0L1591.7 337.1L1592.4 338.1L1593.1 337.7L1593.8 338.3L1594.5 337.7L1595.2 339.2L1595.9 338.3L1596.6 338.3L1597.3 337.7L1598.0 337.2L1598.7 337.6L1599.4 337.6L1600.1 337.5L1600.8 337.0L1601.5 336.4L1602.2 336.4L1602.9 336.0L1603.6 335.7L1604.3 336.0L1605.0 337.4L1605.7 338.0L1606.4 337.7L1607.1 338.1L1607.8 338.8L1608.5 338.4L1609.2 340.6L1609.9 338.3L1610.6 337.5L1611.3 336.2L1612.0 337.3L1612.7 337.5L1613.4 336.4L1614.1 337.0L1614.8 335.6L1615.5 335.8L1616.2 335.8L1616.9 335.5L1617.6 335.2L1618.3 335.6L1619.0 335.0L1619.7 336.7L1620.4 335.9L1621.1 335.6L1621.8 334.9L1622.5 335.6L1623.2 334.0L1623.9 335.4L1624.6 334.8L1625.3 333.3L1626.0 333.5L1626.7 334.1L1627.4 334.5L1628.1 333.2L1628.8 333.6L1629.5 336.0L1630.2 335.3L1630.9 335.6L1631.6 336.7L1632.3 335.8L1633.0 335.1L1633.7 333.9L1634.4 335.3L1635.1 333.4L1635.8 334.2L1636.5 332.0L1637.2 332.8L1637.9 333.0L1638.6 332.1L1639.3 332.6L1640.0 332.3L1640.7 332.9L1641.4 331.8L1642.1 332.4L1642.8 333.3L1643.5 333.0L1644.2 333.0L1644.9 331.6L1645.6 330.7L1646.3 330.9L1647.0 331.1L1647.7 330.9L1648.4 331.9L1649.1 330.7L1649.8 331.3L1650.5 330.7L1651.2 331.7L1651.9 333.0L1652.6 332.3L1653.3 332.7L1654.0 332.4L1654.7 332.5L1655.4 331.0L1656.1 331.7L1656.8 331.7L1657.5 332.0L1658.2 332.2L1658.9 330.9L1659.6 330.3L1660.3 330.8L1661.0 332.0L1661.7 330.2L1662.4 329.8L1663.1 329.7L1663.8 329.5L1664.5 330.8L1665.2 329.7L1665.9 329.6L1666.6 330.6L1667.3 329.9L1668.0 329.1L1668.7 327.0L1669.4 325.0L1670.1 324.8L1670.8 324.1L1671.5 320.7L1672.2 318.3L1672.9 312.8L1673.6 310.7L1674.3 300.5L1675.0 285.4L1675.7 265.7L1676.4 237.1L1677.1 202.8L1677.8 166.6L1678.5 137.6L1679.2 130.2L1679.9 146.3L1680.6 175.0L1681.3 203.6L1682.0 224.2L1682.7 234.2L1683.4 234.5L1684.1 228.8L1684.8 222.1L1685.5 221.2L1686.2 229.5L1686.9 245.4L1687.6 264.0L1688.3 280.9L1689.0 294.8L1689.7 305.2L1690.4 313.3L1691.1 318.4L1691.8 324.8L1692.5 326.4L1693.2 328.4L1693.9 330.0L1694.6 329.8L1695.3 331.1L1696.0 332.6L1696.7 332.5L1697.4 333.9L1698.1 335.9L1698.8 334.7L1699.5 336.3L1700.2 337.4L1700.9 337.9L1701.6 338.3L1702.3 338.1L1703.0 339.6L1703.7 337.8L1704.4 340.1L1705.1 339.2L1705.8 340.1L1706.5 340.7L1707.2 342.1L1707.9 340.5L1708.6 340.2L1709.3 341.8L1710.0 340.9L1710.7 340.8L1711.4 341.0L1712.1 341.1L1712.8 340.4L1713.5 338.7L1714.2 339.8L1714.9 339.9L1715.6 339.1L1716.3 339.4L1717.0 340.8L1717.7 340.8L1718.4 340.3L1719.1 341.4L1719.8 341.1L1720.5 340.1L1721.2 340.8L1721.9 340.2L1722.6 340.6L1723.3 341.5L1724.0 340.6L1724.7 340.6L1725.4 341.7L1726.1 340.8L1726.8 341.2L1727.5 341.2L1728.2 341.1L1728.9 341.3L1729.6 340.6L1730.3 340.2L1731.0 340.4L1731.7 341.6L1732.4 341.6L1733.1 341.1L1733.8 342.3L1734.5 342.2L1735.2 341.3L1735.9 343.2L1736.6 344.2L1737.3 342.5L1738.0 341.0L1738.7 342.9L1739.4 342.0L1740.1 341.2L1740.8 339.6L1741.5 340.6L1742.2 340.1L1742.9 339.8L1743.6 339.5L1744.3 340.2L1745.0 339.2L1745.7 339.8L1746.4 338.5L1747.1 339.5L1747.8 340.7L1748.5 340.7L1749.2 341.9L1749.9 342.3L1750.6 342.7L1751.3 342.5L1752.0 343.2L1752.7 341.9L1753.4 342.6L1754.1 343.9L1754.8 342.7L1755.5 343.8L1756.2 342.8L1756.9 342.0L1757.6 341.7L1758.3 342.2L1759.0 340.6L1759.7 340.0L1760.4 341.1L1761.1 341.4L1761.8 341.8L1762.5 340.6L1763.2 342.1L1763.9 342.1L1764.6 341.8L1765.3 341.5L1766.0 341.8L1766.7 341.2L1767.4 341.1L1768.1 342.4L1768.8 341.2L1769.5 340.7L1770.2 341.1L1770.9 341.5L1771.6 341.0L1772.3 342.8L1773.0 343.1L1773.7 341.3L1774.4 342.0L1775.1 340.7L1775.8 340.7L1776.5 340.0L1777.2 341.1L1777.9 342.0L1778.6 342.1L1779.3 341.7L1780.0 341.3L1780.7 342.3L1781.4 342.8L1782.1 341.4L1782.8 342.4L1783.5 342.5L1784.2 342.4L1784.9 342.3L1785.6 342.4L1786.3 342.8L1787.0 342.5L1787.7 341.9L1788.4 342.2L1789.1 340.5L1789.8 339.8L1790.5 339.8L1791.2 340.8L1791.9 340.4L1792.6 339.9L1793.3 341.9L1794.0 342.7L1794.7 342.3L1795.4 343.0L1796.1 342.1L1796.8 342.3L1797.5 343.5L1798.2 343.7L1798.9 343.5L1799.6 343.4L1800.3 343.2L1801.0 344.4L1801.7 342.9L1802.4 343.3L1803.1 344.0L1803.8 342.6L1804.5 343.3L1805.2 343.0L1805.9 343.2L1806.6 340.8L1807.3 341.7L1808.0 340.9L1808.7 341.6L1809.4 340.5L1810.1 340.0L1810.8 341.0L1811.5 341.0L1812.2 341.5L1812.9 341.7L1813.6 341.6L1814.3 340.8L1815.0 341.3L1815.7 341.2L1816.4 341.1L1817.1 341.0L1817.8 340.8L1818.5 340.5L1819.2 340.9L1819.9 340.4L1820.6 340.6L1821.3 341.7L1822.0 341.1L1822.7 341.4L1823.4 340.9L1824.1 340.2L1824.8 341.0L1825.5 342.2L1826.2 341.0L1826.9 340.5L1827.6 341.1L1828.3 340.2L1829.0 339.9L1829.7 339.1L1830.4 338.8L1831.1 339.7L1831.8 339.1L1832.5 338.3L1833.2 337.9L1833.9 336.3L1834.6 335.5L1835.3 333.8L1836.0 332.3L1836.7 330.4L1837.4 328.6L1838.1 323.7L1838.8 315.1L1839.5 304.0L1840.2 288.8L1840.9 268.3L1841.6 247.7L1842.3 234.2L1843.0 236.2L1843.7 250.2L1844.4 266.5L1845.1 279.2L1845.8 285.4L1846.5 286.4L1847.2 284.3L1847.9 283.9L1848.6 288.2L1849.3 296.8L1850.0 306.7L1850.7 315.5L1851.4 321.0L1852.1 326.8L1852.8 330.6L1853.5 334.6L1854.2 335.3L1854.9 336.4L1855.6 338.2L1856.3 337.9L1857.0 339.1L1857.7 338.2L1858.4 340.2L1859.1 339.2L1859.8 339.5L1860.5 339.4L1861.2 339.6L1861.9 339.7L1862.6 339.6L1863.3 340.6L1864.0 338.6L1864.7 339.4L1865.4 340.2L1866.1 340.6L1866.8 341.9L1867.5 341.7L1868.2 341.6L1868.9 341.4L1869.6 343.3L1870.3 342.8L1871.0 343.9L1871.7 341.3L1872.4 343.2L1873.1 341.8L1873.8 341.1L1874.5 341.4L1875.2 341.2L1875.9 340.8L1876.6 340.1L1877.3 340.9L1878.0 340.5L1878.7 341.5L1879.4 340.7L1880.1 341.7L1880.8 341.2L1881.5 342.1L1882.2 341.1L1882.9 340.9L1883.6 341.0L1884.3 342.1L1885.0 344.4L1885.7 341.1L1886.4 341.5L1887.1 342.9L1887.8 342.4L1888.5 343.0L1889.2 342.7L1889.9 343.1L1890.6 343.0L1891.3 342.3L1892.0 343.1L1892.7 342.2L1893.4 342.9L1894.1 340.5L1894.8 340.7L1895.5 341.9L1896.2 342.2L1896.9 343.6L1897.6 342.5L1898.3 343.9L1899.0 342.8L1899.7 345.8L1900.4 342.9L1901.1 345.5L1901.8 344.2L1902.5 343.3L1903.2 343.9L1903.9 344.7L1904.6 343.9L1905.3 343.3L1906.0 343.7L1906.7 343.4L1907.4 343.7L1908.1 343.4L1908.8 342.6L1909.5 342.4L1910.2 343.0L1910.9 343.0L1911.6 343.4L1912.3 342.6L1913.0 343.3L1913.7 342.7L1914.4 343.6L1915.1 343.4L1915.8 343.0L1916.5 342.0L1917.2 343.5L1917.9 342.1L1918.6 342.2L1919.3 342.4L1920.0 342.9L1920.7 342.8L1921.4 343.4L1922.1 343.4L1922.8 345.4L1923.5 344.7L1924.2 344.7L1924.9 343.7L1925.6 344.4L1926.3 345.2L1927.0 345.2L1927.7 344.0L1928.4 344.9L1929.1 345.5L1929.8 344.5L1930.5 345.3L1931.2 346.0L1931.9 346.1L1932.6 344.4L1933.3 344.4L1934.0 345.5L1934.7 344.3L1935.4 344.6L1936.1 343.5L1936.8 344.9L1937.5 344.5L1938.2 345.3L1938.9 344.1L1939.6 344.5L1940.3 344.2L1941.0 344.3L1941.7 344.3L1942.4 345.2L1943.1 344.6L1943.8 345.2L1944.5 345.0L1945.2 345.8L1945.9 346.4L1946.6 346.6L1947.3 346.8L1948.0 346.2L1948.7 346.6" fill="none" stroke="#0505e6" stroke-width="4.4" stroke-linejoin="round"/><path d="M198.0 671.3L198.7 670.2L199.4 675.7L200.1 670.9L200.8 670.4L201.5 673.8L202.2 673.6L202.9 676.2L203.6 669.7L204.3 673.5L205.0 669.2L205.7 673.6L206.4 671.3L207.1 671.7L207.8 671.1L208.5 674.5L209.2 676.3L209.9 672.8L210.6 672.6L211.3 672.2L212.0 674.5L212.7 671.4L213.4 681.1L214.1 673.2L214.8 677.2L215.5 673.8L216.2 670.4L216.9 669.9L217.6 672.3L218.3 671.9L219.0 673.2L219.7 671.7L220.4 679.3L221.1 679.1L221.8 671.0L222.5 675.7L223.2 677.1L223.9 673.8L224.6 674.0L225.3 676.8L226.0 675.6L226.7 672.0L227.4 677.1L228.1 673.6L228.8 678.6L229.5 672.8L230.2 670.2L230.9 675.3L231.6 677.8L232.3 676.5L233.0 675.9L233.7 673.9L234.4 678.0L235.1 672.5L235.8 678.3L236.5 674.3L237.2 675.5L237.9 673.9L238.6 674.4L239.3 679.2L240.0 673.4L240.7 676.0L241.4 673.7L242.1 677.3L242.8 672.2L243.5 674.9L244.2 676.9L244.9 680.0L245.6 673.1L246.3 674.1L247.0 676.1L247.7 679.5L248.4 674.2L249.1 678.1L249.8 675.1L250.5 674.3L251.2 673.3L251.9 677.1L252.6 679.0L253.3 676.8L254.0 672.6L254.7 675.8L255.4 678.9L256.1 678.7L256.8 677.4L257.5 680.0L258.2 674.4L258.9 674.7L259.6 682.4L260.3 678.9L261.0 677.1L261.7 676.4L262.4 671.9L263.1 678.9L263.8 672.7L264.5 672.7L265.2 676.6L265.9 679.8L266.6 675.9L267.3 677.7L268.0 676.4L268.7 678.7L269.4 674.9L270.1 683.4L270.8 677.4L271.5 680.9L272.2 675.4L272.9 683.3L273.6 680.2L274.3 683.1L275.0 677.2L275.7 680.6L276.4 677.9L277.1 678.2L277.8 681.1L278.5 676.7L279.2 680.4L279.9 683.1L280.6 682.8L281.3 681.4L282.0 679.9L282.7 677.1L283.4 682.1L284.1 677.5L284.8 681.3L285.5 677.9L286.2 678.5L286.9 678.4L287.6 679.8L288.3 677.8L289.0 679.5L289.7 678.4L290.4 680.9L291.1 680.6L291.8 681.1L292.5 678.5L293.2 680.9L293.9 680.1L294.6 681.0L295.3 679.7L296.0 677.4L296.7 680.8L297.4 677.9L298.1 680.0L298.8 675.2L299.5 680.8L300.2 681.4L300.9 678.2L301.6 681.4L302.3 679.3L303.0 682.9L303.7 681.3L304.4 677.2L305.1 679.5L305.8 676.4L306.5 679.5L307.2 681.5L307.9 682.0L308.6 680.0L309.3 679.5L310.0 680.1L310.7 678.3L311.4 680.3L312.1 682.1L312.8 680.5L313.5 682.2L314.2 679.1L314.9 679.9L315.6 681.7L316.3 685.2L317.0 683.0L317.7 684.4L318.4 680.8L319.1 683.2L319.8 676.9L320.5 681.4L321.2 675.9L321.9 682.7L322.6 681.2L323.3 682.6L324.0 681.1L324.7 679.3L325.4 678.9L326.1 681.0L326.8 683.9L327.5 682.1L328.2 679.7L328.9 679.6L329.6 679.1L330.3 680.1L331.0 680.3L331.7 679.6L332.4 680.7L333.1 677.6L333.8 684.1L334.5 681.4L335.2 683.9L335.9 681.2L336.6 680.0L337.3 680.4L338.0 680.6L338.7 678.7L339.4 679.3L340.1 683.9L340.8 681.7L341.5 678.5L342.2 680.5L342.9 677.7L343.6 682.5L344.3 677.7L345.0 681.9L345.7 680.3L346.4 680.5L347.1 678.9L347.8 680.1L348.5 679.1L349.2 679.0L349.9 681.8L350.6 686.0L351.3 680.1L352.0 682.7L352.7 680.3L353.4 678.5L354.1 682.5L354.8 680.8L355.5 681.7L356.2 679.7L356.9 680.0L357.6 678.3L358.3 679.9L359.0 684.3L359.7 676.4L360.4 681.9L361.1 683.7L361.8 681.8L362.5 681.3L363.2 678.4L363.9 680.8L364.6 680.6L365.3 678.1L366.0 681.7L366.7 677.5L367.4 673.5L368.1 678.6L368.8 678.3L369.5 676.7L370.2 677.4L370.9 677.2L371.6 674.6L372.3 680.9L373.0 678.5L373.7 684.0L374.4 678.5L375.1 679.4L375.8 675.5L376.5 680.8L377.2 676.5L377.9 679.8L378.6 680.4L379.3 679.8L380.0 676.3L380.7 676.1L381.4 679.0L382.1 679.7L382.8 680.0L383.5 676.8L384.2 676.6L384.9 680.4L385.6 675.7L386.3 678.8L387.0 677.0L387.7 675.3L388.4 676.4L389.1 679.9L389.8 679.6L390.5 680.2L391.2 678.4L391.9 677.8L392.6 679.1L393.3 677.8L394.0 674.4L394.7 676.3L395.4 680.0L396.1 674.5L396.8 676.8L397.5 675.3L398.2 677.0L398.9 674.1L399.6 673.7L400.3 677.7L401.0 675.8L401.7 677.4L402.4 676.8L403.1 679.1L403.8 677.2L404.5 676.5L405.2 673.9L405.9 672.6L406.6 674.1L407.3 677.7L408.0 677.7L408.7 677.6L409.4 675.7L410.1 674.4L410.8 678.5L411.5 676.3L412.2 676.8L412.9 673.5L413.6 673.8L414.3 676.3L415.0 676.2L415.7 672.4L416.4 674.5L417.1 671.0L417.8 675.3L418.5 673.8L419.2 676.7L419.9 675.0L420.6 670.7L421.3 672.5L422.0 671.1L422.7 672.2L423.4 673.2L424.1 671.4L424.8 671.2L425.5 668.0L426.2 671.4L426.9 669.6L427.6 670.1L428.3 669.9L429.0 666.6L429.7 666.3L430.4 661.4L431.1 661.3L431.8 654.7L432.5 646.8L433.2 638.2L433.9 625.4L434.6 610.4L435.3 593.2L436.0 576.3L436.7 563.5L437.4 559.4L438.1 566.5L438.8 580.1L439.5 598.8L440.2 616.2L440.9 631.1L441.6 645.7L442.3 652.0L443.0 658.5L443.7 662.1L444.4 665.1L445.1 668.4L445.8 672.3L446.5 667.3L447.2 670.4L447.9 672.4L448.6 670.2L449.3 673.2L450.0 670.0L450.7 672.3L451.4 670.0L452.1 674.1L452.8 672.2L453.5 675.1L454.2 673.3L454.9 671.9L455.6 672.9L456.3 674.0L457.0 673.9L457.7 673.7L458.4 673.9L459.1 675.0L459.8 677.0L460.5 674.5L461.2 676.7L461.9 673.3L462.6 677.8L463.3 676.6L464.0 675.2L464.7 675.3L465.4 672.7L466.1 676.5L466.8 676.1L467.5 674.2L468.2 676.4L468.9 678.6L469.6 678.0L470.3 678.3L471.0 676.7L471.7 679.3L472.4 677.3L473.1 678.7L473.8 681.1L474.5 672.6L475.2 675.4L475.9 676.5L476.6 675.3L477.3 678.9L478.0 676.4L478.7 680.4L479.4 678.4L480.1 677.6L480.8 676.4L481.5 677.8L482.2 676.9L482.9 678.7L483.6 676.6L484.3 677.9L485.0 676.8L485.7 676.9L486.4 673.4L487.1 676.6L487.8 677.5L488.5 674.5L489.2 674.1L489.9 676.2L490.6 677.4L491.3 673.4L492.0 677.2L492.7 678.4L493.4 675.9L494.1 676.8L494.8 677.3L495.5 675.4L496.2 678.2L496.9 678.3L497.6 675.3L498.3 679.0L499.0 679.8L499.7 676.1L500.4 679.9L501.1 677.8L501.8 675.8L502.5 676.5L503.2 676.8L503.9 679.6L504.6 677.6L505.3 677.6L506.0 675.6L506.7 677.7L507.4 674.7L508.1 675.3L508.8 677.3L509.5 677.1L510.2 674.7L510.9 675.6L511.6 676.9L512.3 676.0L513.0 678.4L513.7 678.6L514.4 675.7L515.1 673.3L515.8 675.3L516.5 678.2L517.2 677.8L517.9 678.2L518.6 678.4L519.3 675.5L520.0 677.3L520.7 679.0L521.4 677.5L522.1 678.7L522.8 675.1L523.5 674.6L524.2 680.9L524.9 678.5L525.6 678.4L526.3 680.2L527.0 681.9L527.7 683.3L528.4 673.1L529.1 678.4L529.8 679.5L530.5 673.5L531.2 673.4L531.9 676.4L532.6 680.3L533.3 678.4L534.0 680.8L534.7 677.2L535.4 678.8L536.1 679.6L536.8 677.2L537.5 676.0L538.2 675.9L538.9 668.1L539.6 675.6L540.3 671.2L541.0 673.1L541.7 676.0L542.4 675.3L543.1 670.5L543.8 675.2L544.5 675.5L545.2 674.2L545.9 675.0L546.6 674.7L547.3 670.3L548.0 673.3L548.7 673.4L549.4 671.9L550.1 674.4L550.8 673.2L551.5 674.8L552.2 673.3L552.9 676.9L553.6 679.0L554.3 673.3L555.0 674.2L555.7 674.1L556.4 674.7L557.1 673.5L557.8 669.5L558.5 674.6L559.2 673.8L559.9 671.9L560.6 673.5L561.3 672.8L562.0 674.0L562.7 672.8L563.4 672.8L564.1 673.5L564.8 673.8L565.5 673.3L566.2 675.5L566.9 673.6L567.6 671.6L568.3 676.4L569.0 673.3L569.7 676.3L570.4 671.4L571.1 674.9L571.8 677.4L572.5 676.7L573.2 674.5L573.9 673.1L574.6 672.8L575.3 673.3L576.0 671.3L576.7 671.3L577.4 670.3L578.1 669.9L578.8 671.9L579.5 667.7L580.2 671.3L580.9 672.4L581.6 669.5L582.3 669.8L583.0 671.9L583.7 672.0L584.4 674.0L585.1 668.2L585.8 671.7L586.5 674.2L587.2 671.3L587.9 674.2L588.6 674.7L589.3 669.1L590.0 672.9L590.7 670.9L591.4 669.9L592.1 669.5L592.8 669.9L593.5 668.9L594.2 670.6L594.9 673.1L595.6 673.9L596.3 670.9L597.0 672.7L597.7 672.6L598.4 666.9L599.1 672.4L599.8 668.2L600.5 667.7L601.2 670.9L601.9 672.0L602.6 666.3L603.3 666.5L604.0 666.3L604.7 667.1L605.4 667.4L606.1 666.6L606.8 665.1L607.5 671.6L608.2 667.2L608.9 666.7L609.6 669.7L610.3 667.0L611.0 669.5L611.7 668.5L612.4 668.5L613.1 665.6L613.8 667.4L614.5 663.1L615.2 663.3L615.9 666.1L616.6 665.3L617.3 668.4L618.0 665.2L618.7 662.3L619.4 665.6L620.1 664.6L620.8 665.1L621.5 661.9L622.2 662.0L622.9 662.9L623.6 663.7L624.3 662.5L625.0 662.5L625.7 657.5L626.4 658.8L627.1 658.3L627.8 657.9L628.5 654.0L629.2 649.5L629.9 645.1L630.6 639.2L631.3 631.2L632.0 623.1L632.7 613.8L633.4 604.3L634.1 595.4L634.8 592.4L635.5 592.8L636.2 599.9L636.9 608.3L637.6 618.2L638.3 627.0L639.0 634.8L639.7 640.5L640.4 647.3L641.1 649.2L641.8 653.3L642.5 660.8L643.2 656.7L643.9 661.6L644.6 658.2L645.3 663.3L646.0 665.3L646.7 665.3L647.4 667.4L648.1 669.0L648.8 663.4L649.5 666.8L650.2 667.6L650.9 667.6L651.6 670.0L652.3 667.7L653.0 669.7L653.7 669.8L654.4 668.0L655.1 668.9L655.8 666.5L656.5 668.8L657.2 668.8L657.9 668.4L658.6 668.2L659.3 671.2L660.0 669.5L660.7 674.4L661.4 672.9L662.1 672.2L662.8 670.1L663.5 673.2L664.2 672.0L664.9 672.1L665.6 669.9L666.3 673.0L667.0 672.2L667.7 670.8L668.4 670.4L669.1 671.3L669.8 669.6L670.5 671.4L671.2 675.4L671.9 671.9L672.6 677.7L673.3 670.9L674.0 675.5L674.7 675.6L675.4 676.0L676.1 675.2L676.8 671.4L677.5 677.0L678.2 677.2L678.9 675.6L679.6 671.3L680.3 677.9L681.0 674.2L681.7 675.4L682.4 678.2L683.1 678.2L683.8 676.3L684.5 674.4L685.2 678.8L685.9 677.9L686.6 675.7L687.3 674.4L688.0 677.0L688.7 674.0L689.4 679.7L690.1 677.2L690.8 675.6L691.5 677.2L692.2 673.5L692.9 677.0L693.6 676.6L694.3 675.6L695.0 678.2L695.7 680.7L696.4 677.9L697.1 680.6L697.8 678.0L698.5 680.7L699.2 676.7L699.9 681.0L700.6 680.8L701.3 681.1L702.0 683.0L702.7 679.9L703.4 679.7L704.1 680.4L704.8 677.9L705.5 674.6L706.2 675.2L706.9 674.6L707.6 676.8L708.3 674.8L709.0 674.9L709.7 676.4L710.4 675.5L711.1 678.6L711.8 674.5L712.5 672.7L713.2 676.7L713.9 673.5L714.6 673.9L715.3 675.6L716.0 673.8L716.7 674.4L717.4 671.6L718.1 671.9L718.8 673.3L719.5 670.6L720.2 670.2L720.9 670.1L721.6 672.2L722.3 671.2L723.0 668.2L723.7 667.6L724.4 666.2L725.1 670.2L725.8 669.1L726.5 670.8L727.2 667.3L727.9 672.3L728.6 672.0L729.3 674.0L730.0 675.1L730.7 673.6L731.4 673.1L732.1 675.0L732.8 671.4L733.5 676.0L734.2 673.9L734.9 670.9L735.6 674.5L736.3 672.4L737.0 671.0L737.7 666.6L738.4 661.6L739.1 656.7L739.8 652.5L740.5 656.2L741.2 658.8L741.9 661.0L742.6 666.7L743.3 667.1L744.0 672.9L744.7 672.6L745.4 673.4L746.1 671.9L746.8 674.8L747.5 673.3L748.2 671.9L748.9 673.6L749.6 672.5L750.3 674.7L751.0 670.0L751.7 670.5L752.4 675.9L753.1 671.2L753.8 672.6L754.5 670.7L755.2 671.6L755.9 675.7L756.6 667.3L757.3 671.7L758.0 670.8L758.7 670.6L759.4 668.9L760.1 668.2L760.8 671.6L761.5 669.3L762.2 665.2L762.9 666.1L763.6 662.5L764.3 668.6L765.0 662.8L765.7 657.5L766.4 660.7L767.1 658.4L767.8 655.8L768.5 653.4L769.2 650.0L769.9 647.5L770.6 643.9L771.3 642.4L772.0 639.6L772.7 635.6L773.4 632.3L774.1 627.8L774.8 624.6L775.5 620.5L776.2 616.9L776.9 614.1L777.6 610.9L778.3 606.6L779.0 604.1L779.7 599.5L780.4 594.2L781.1 590.8L781.8 586.9L782.5 581.2L783.2 575.7L783.9 567.6L784.6 560.8L785.3 550.4L786.0 540.2L786.7 528.3L787.4 514.7L788.1 500.5L788.8 486.0L789.5 472.0L790.2 460.0L790.9 451.7L791.6 447.7L792.3 449.8L793.0 457.9L793.7 469.9L794.4 487.1L795.1 505.8L795.8 524.5L796.5 543.0L797.2 561.6L797.9 577.3L798.6 593.4L799.3 609.5L800.0 615.3L800.7 627.8L801.4 633.9L802.1 642.7L802.8 647.4L803.5 651.0L804.2 657.4L804.9 656.9L805.6 662.8L806.3 664.3L807.0 665.2L807.7 669.8L808.4 670.0L809.1 670.9L809.8 672.7L810.5 674.2L811.2 677.6L811.9 677.0L812.6 673.9L813.3 674.6L814.0 678.8L814.7 679.0L815.4 681.0L816.1 679.2L816.8 680.1L817.5 683.7L818.2 679.2L818.9 683.0L819.6 681.8L820.3 684.6L821.0 684.4L821.7 683.6L822.4 685.7L823.1 684.5L823.8 682.4L824.5 685.1L825.2 685.1L825.9 684.1L826.6 684.7L827.3 683.7L828.0 685.2L828.7 684.7L829.4 683.2L830.1 686.0L830.8 689.8L831.5 689.1L832.2 690.6L832.9 688.4L833.6 687.9L834.3 686.9L835.0 689.0L835.7 690.4L836.4 689.9L837.1 689.5L837.8 687.2L838.5 687.9L839.2 686.3L839.9 688.8L840.6 688.5L841.3 686.5L842.0 687.8L842.7 684.0L843.4 688.8L844.1 686.3L844.8 686.9L845.5 688.4L846.2 688.4L846.9 686.2L847.6 689.9L848.3 690.7L849.0 690.1L849.7 690.1L850.4 688.3L851.1 690.6L851.8 687.0L852.5 686.5L853.2 688.5L853.9 688.7L854.6 686.9L855.3 691.3L856.0 686.3L856.7 685.4L857.4 688.2L858.1 691.6L858.8 690.2L859.5 689.7L860.2 689.4L860.9 690.1L861.6 689.8L862.3 689.5L863.0 689.2L863.7 686.9L864.4 691.0L865.1 688.7L865.8 690.0L866.5 690.2L867.2 691.1L867.9 688.3L868.6 691.0L869.3 691.2L870.0 689.8L870.7 690.0L871.4 690.3L872.1 688.4L872.8 689.2L873.5 688.0L874.2 691.6L874.9 688.4L875.6 688.1L876.3 690.4L877.0 691.4L877.7 690.5L878.4 690.1L879.1 692.6L879.8 693.4L880.5 689.5L881.2 693.3L881.9 688.8L882.6 692.2L883.3 690.1L884.0 690.0L884.7 691.2L885.4 692.1L886.1 693.0L886.8 692.0L887.5 691.1L888.2 688.2L888.9 689.9L889.6 690.9L890.3 690.0L891.0 691.9L891.7 690.7L892.4 693.9L893.1 690.7L893.8 688.9L894.5 689.8L895.2 689.2L895.9 691.1L896.6 691.9L897.3 691.2L898.0 691.3L898.7 688.8L899.4 688.5L900.1 689.4L900.8 691.1L901.5 690.9L902.2 692.2L902.9 693.4L903.6 691.9L904.3 694.1L905.0 690.1L905.7 691.9L906.4 690.5L907.1 691.7L907.8 689.7L908.5 688.6L909.2 688.9L909.9 687.7L910.6 687.4L911.3 690.4L912.0 688.6L912.7 691.6L913.4 693.7L914.1 689.4L914.8 691.2L915.5 689.6L916.2 686.7L916.9 689.3L917.6 691.7L918.3 687.8L919.0 689.6L919.7 689.8L920.4 688.0L921.1 690.6L921.8 689.8L922.5 690.6L923.2 689.5L923.9 687.1L924.6 689.4L925.3 690.2L926.0 689.1L926.7 690.6L927.4 690.8L928.1 686.9L928.8 691.1L929.5 687.1L930.2 688.1L930.9 689.7L931.6 688.3L932.3 688.4L933.0 691.2L933.7 687.8L934.4 691.0L935.1 691.8L935.8 690.8L936.5 686.7L937.2 685.5L937.9 687.3L938.6 689.8L939.3 686.1L940.0 685.4L940.7 685.9L941.4 687.1L942.1 687.8L942.8 686.1L943.5 686.0L944.2 687.2L944.9 686.7L945.6 686.3L946.3 684.5L947.0 687.3L947.7 686.3L948.4 686.7L949.1 686.5L949.8 685.4L950.5 687.1L951.2 687.4L951.9 686.2L952.6 684.1L953.3 685.1L954.0 685.7L954.7 684.7L955.4 686.1L956.1 683.3L956.8 685.1L957.5 687.4L958.2 686.6L958.9 684.9L959.6 685.0L960.3 687.7L961.0 686.0L961.7 683.3L962.4 684.6L963.1 683.3L963.8 682.8L964.5 681.6L965.2 683.8L965.9 685.4L966.6 683.1L967.3 679.6L968.0 681.8L968.7 678.6L969.4 680.5L970.1 681.0L970.8 681.0L971.5 678.5L972.2 678.4L972.9 677.8L973.6 677.5L974.3 680.1L975.0 676.7L975.7 675.8L976.4 680.4L977.1 680.9L977.8 675.3L978.5 678.6L979.2 678.3L979.9 676.7L980.6 676.2L981.3 678.2L982.0 677.9L982.7 680.0L983.4 678.5L984.1 681.5L984.8 679.5L985.5 683.2L986.2 682.8L986.9 683.8L987.6 682.4L988.3 683.2L989.0 683.9L989.7 686.0L990.4 683.8L991.1 684.0L991.8 685.2L992.5 686.5L993.2 686.4L993.9 687.0L994.6 685.9L995.3 687.4L996.0 687.3L996.7 690.8L997.4 689.9L998.1 691.6L998.8 689.6L999.5 691.9L1000.2 692.9L1000.9 691.1L1001.6 691.7L1002.3 691.9L1003.0 692.6L1003.7 692.6L1004.4 690.0L1005.1 692.1L1005.8 691.8L1006.5 691.8L1007.2 690.3L1007.9 691.5L1008.6 693.5L1009.3 693.5L1010.0 691.2L1010.7 694.3L1011.4 691.6L1012.1 691.1L1012.8 694.0L1013.5 693.2L1014.2 696.1L1014.9 693.0L1015.6 693.6L1016.3 694.4L1017.0 693.6L1017.7 692.6L1018.4 693.1L1019.1 692.9L1019.8 692.8L1020.5 692.6L1021.2 690.3L1021.9 693.2L1022.6 690.9L1023.3 691.3L1024.0 690.6L1024.7 691.5L1025.4 693.3L1026.1 694.0L1026.8 693.1L1027.5 693.2L1028.2 692.4L1028.9 692.8L1029.6 693.4L1030.3 692.8L1031.0 691.7L1031.7 693.1L1032.4 691.7L1033.1 695.9L1033.8 693.7L1034.5 692.6L1035.2 694.0L1035.9 692.4L1036.6 693.0L1037.3 695.3L1038.0 694.9L1038.7 691.7L1039.4 692.0L1040.1 693.0L1040.8 696.9L1041.5 694.5L1042.2 695.1L1042.9 694.6L1043.6 697.3L1044.3 697.1L1045.0 693.9L1045.7 695.0L1046.4 693.6L1047.1 694.2L1047.8 694.3L1048.5 693.3L1049.2 693.8L1049.9 695.3L1050.6 695.8L1051.3 694.4L1052.0 695.1L1052.7 692.4L1053.4 696.0L1054.1 697.1L1054.8 694.1L1055.5 695.1L1056.2 695.0L1056.9 691.9L1057.6 696.0L1058.3 695.4L1059.0 692.8L1059.7 694.3L1060.4 696.2L1061.1 695.2L1061.8 692.5L1062.5 693.3L1063.2 693.0L1063.9 694.1L1064.6 693.0L1065.3 694.1L1066.0 693.9L1066.7 692.2L1067.4 694.5L1068.1 694.2L1068.8 692.8L1069.5 694.5L1070.2 696.5L1070.9 691.7L1071.6 694.1L1072.3 695.1L1073.0 694.3L1073.7 693.7L1074.4 697.2L1075.1 693.9L1075.8 694.4L1076.5 693.8L1077.2 696.1L1077.9 692.0L1078.6 693.6L1079.3 694.2L1080.0 695.2L1080.7 695.3L1081.4 696.3L1082.1 695.1L1082.8 694.5L1083.5 695.6L1084.2 694.8L1084.9 695.2L1085.6 695.2L1086.3 695.8L1087.0 696.0L1087.7 693.2L1088.4 693.4L1089.1 693.8L1089.8 693.8L1090.5 693.5L1091.2 694.7L1091.9 694.0L1092.6 692.3L1093.3 696.0L1094.0 692.9L1094.7 696.5L1095.4 695.0L1096.1 695.4L1096.8 693.6L1097.5 695.9L1098.2 695.5L1098.9 694.7L1099.6 696.2L1100.3 696.2L1101.0 696.4L1101.7 693.3L1102.4 693.9L1103.1 696.6L1103.8 695.8L1104.5 696.3L1105.2 694.8L1105.9 695.7L1106.6 696.1L1107.3 693.4L1108.0 693.6L1108.7 694.4L1109.4 695.5L1110.1 693.2L1110.8 694.4L1111.5 692.7L1112.2 692.4L1112.9 694.6L1113.6 692.8L1114.3 694.2L1115.0 693.6L1115.7 694.8L1116.4 692.7L1117.1 692.4L1117.8 692.2L1118.5 693.5L1119.2 695.3L1119.9 694.9L1120.6 694.4L1121.3 694.2L1122.0 695.8L1122.7 694.3L1123.4 695.5L1124.1 695.7L1124.8 694.9L1125.5 694.6L1126.2 694.7L1126.9 694.4L1127.6 694.9L1128.3 693.6L1129.0 693.4L1129.7 695.8L1130.4 693.6L1131.1 691.6L1131.8 695.0L1132.5 695.1L1133.2 694.2L1133.9 692.5L1134.6 696.3L1135.3 695.3L1136.0 695.3L1136.7 693.4L1137.4 693.9L1138.1 693.0L1138.8 693.0L1139.5 692.1L1140.2 692.6L1140.9 692.9L1141.6 693.4L1142.3 694.3L1143.0 693.7L1143.7 691.1L1144.4 694.4L1145.1 691.7L1145.8 694.1L1146.5 693.5L1147.2 693.8L1147.9 693.0L1148.6 692.2L1149.3 694.9L1150.0 690.1L1150.7 691.7L1151.4 693.9L1152.1 692.3L1152.8 692.2L1153.5 691.2L1154.2 691.0L1154.9 692.9L1155.6 692.1L1156.3 692.5L1157.0 692.5L1157.7 689.0L1158.4 688.7L1159.1 687.5L1159.8 686.4L1160.5 684.1L1161.2 678.4L1161.9 674.3L1162.6 668.8L1163.3 660.8L1164.0 652.2L1164.7 642.6L1165.4 636.2L1166.1 633.6L1166.8 637.9L1167.5 645.7L1168.2 655.2L1168.9 664.0L1169.6 671.8L1170.3 676.6L1171.0 681.9L1171.7 688.3L1172.4 686.2L1173.1 687.8L1173.8 690.9L1174.5 690.6L1175.2 693.6L1175.9 691.2L1176.6 695.2L1177.3 693.4L1178.0 692.6L1178.7 692.4L1179.4 694.1L1180.1 694.6L1180.8 695.6L1181.5 693.8L1182.2 698.2L1182.9 695.5L1183.6 694.0L1184.3 693.2L1185.0 696.3L1185.7 692.3L1186.4 693.7L1187.1 694.3L1187.8 691.7L1188.5 693.1L1189.2 691.6L1189.9 693.0L1190.6 692.2L1191.3 689.8L1192.0 687.6L1192.7 685.2L1193.4 683.9L1194.1 681.2L1194.8 678.4L1195.5 676.1L1196.2 673.5L1196.9 671.7L1197.6 671.6L1198.3 671.5L1199.0 673.0L1199.7 675.3L1200.4 677.1L1201.1 680.1L1201.8 682.4L1202.5 684.4L1203.2 685.1L1203.9 687.7L1204.6 688.9L1205.3 690.4L1206.0 689.5L1206.7 692.0L1207.4 691.4L1208.1 692.7L1208.8 695.4L1209.5 694.2L1210.2 694.8L1210.9 694.6L1211.6 695.3L1212.3 695.9L1213.0 694.4L1213.7 695.1L1214.4 692.9L1215.1 694.5L1215.8 693.9L1216.5 694.2L1217.2 693.3L1217.9 693.9L1218.6 695.2L1219.3 694.0L1220.0 696.2L1220.7 695.1L1221.4 696.1L1222.1 694.4L1222.8 693.8L1223.5 696.0L1224.2 696.0L1224.9 695.3L1225.6 696.0L1226.3 695.3L1227.0 696.0L1227.7 695.4L1228.4 694.1L1229.1 696.0L1229.8 693.8L1230.5 697.0L1231.2 694.5L1231.9 693.8L1232.6 694.6L1233.3 695.0L1234.0 695.1L1234.7 695.6L1235.4 694.4L1236.1 693.0L1236.8 694.2L1237.5 695.4L1238.2 696.1L1238.9 692.9L1239.6 695.0L1240.3 695.9L1241.0 693.3L1241.7 696.2L1242.4 693.7L1243.1 694.2L1243.8 693.8L1244.5 696.1L1245.2 695.4L1245.9 694.8L1246.6 694.5L1247.3 693.3L1248.0 694.7L1248.7 694.4L1249.4 694.8L1250.1 693.0L1250.8 696.2L1251.5 696.1L1252.2 697.0L1252.9 695.1L1253.6 695.7L1254.3 694.6L1255.0 696.6L1255.7 695.5L1256.4 697.3L1257.1 696.5L1257.8 696.5L1258.5 696.3L1259.2 694.2L1259.9 696.2L1260.6 693.8L1261.3 695.5L1262.0 695.9L1262.7 694.5L1263.4 695.4L1264.1 696.2L1264.8 696.9L1265.5 696.9L1266.2 696.5L1266.9 695.3L1267.6 696.1L1268.3 698.0L1269.0 695.0L1269.7 697.0L1270.4 694.4L1271.1 695.0L1271.8 697.0L1272.5 696.7L1273.2 697.6L1273.9 696.9L1274.6 695.9L1275.3 696.6L1276.0 696.1L1276.7 697.3L1277.4 696.6L1278.1 696.9L1278.8 694.9L1279.5 695.2L1280.2 695.0L1280.9 695.1L1281.6 695.4L1282.3 696.9L1283.0 695.9L1283.7 696.8L1284.4 695.9L1285.1 694.1L1285.8 694.4L1286.5 695.4L1287.2 696.4L1287.9 695.1L1288.6 693.4L1289.3 694.6L1290.0 694.0L1290.7 694.8L1291.4 695.1L1292.1 694.9L1292.8 694.5L1293.5 694.5L1294.2 695.4L1294.9 695.8L1295.6 696.4L1296.3 695.7L1297.0 695.6L1297.7 696.7L1298.4 697.1L1299.1 696.7L1299.8 695.6L1300.5 696.2L1301.2 698.2L1301.9 694.9L1302.6 695.1L1303.3 695.8L1304.0 693.7L1304.7 693.9L1305.4 695.1L1306.1 694.6L1306.8 691.9L1307.5 693.8L1308.2 692.8L1308.9 691.8L1309.6 693.9L1310.3 692.5L1311.0 693.0L1311.7 692.4L1312.4 694.0L1313.1 694.2L1313.8 694.2L1314.5 695.8L1315.2 694.5L1315.9 693.9L1316.6 694.9L1317.3 694.9L1318.0 695.3L1318.7 692.6L1319.4 695.4L1320.1 696.4L1320.8 695.5L1321.5 694.4L1322.2 697.0L1322.9 695.9L1323.6 697.2L1324.3 696.4L1325.0 695.4L1325.7 694.3L1326.4 695.9L1327.1 696.3L1327.8 695.5L1328.5 694.8L1329.2 696.8L1329.9 695.6L1330.6 697.5L1331.3 695.9L1332.0 696.7L1332.7 696.2L1333.4 696.8L1334.1 697.0L1334.8 694.9L1335.5 696.3L1336.2 696.6L1336.9 696.9L1337.6 697.7L1338.3 699.0L1339.0 697.4L1339.7 698.9L1340.4 698.0L1341.1 697.6L1341.8 696.7L1342.5 697.0L1343.2 696.5L1343.9 697.6L1344.6 698.3L1345.3 697.4L1346.0 697.6L1346.7 696.4L1347.4 697.8L1348.1 696.6L1348.8 696.7L1349.5 697.9L1350.2 697.3L1350.9 698.6L1351.6 698.3L1352.3 698.0L1353.0 697.7L1353.7 698.2L1354.4 698.1L1355.1 697.7L1355.8 698.5L1356.5 697.0L1357.2 696.4L1357.9 696.6L1358.6 697.0L1359.3 697.2L1360.0 698.0L1360.7 699.7L1361.4 697.7L1362.1 698.0L1362.8 698.3L1363.5 697.9L1364.2 697.9L1364.9 698.8L1365.6 699.0L1366.3 697.1L1367.0 697.4L1367.7 698.1L1368.4 697.7L1369.1 697.4L1369.8 698.1L1370.5 697.9L1371.2 697.7L1371.9 698.7L1372.6 697.8L1373.3 697.8L1374.0 698.3L1374.7 697.1L1375.4 698.5L1376.1 697.5L1376.8 697.6L1377.5 699.1L1378.2 699.6L1378.9 700.1L1379.6 700.7L1380.3 699.1L1381.0 700.0L1381.7 699.7L1382.4 700.3L1383.1 701.8L1383.8 701.5L1384.5 701.5L1385.2 701.5L1385.9 700.7L1386.6 701.8L1387.3 699.9L1388.0 701.1L1388.7 699.9L1389.4 699.4L1390.1 701.3L1390.8 699.0L1391.5 699.4L1392.2 698.0L1392.9 697.9L1393.6 699.4L1394.3 699.1L1395.0 699.2L1395.7 699.8L1396.4 700.2L1397.1 700.4L1397.8 700.0L1398.5 700.0L1399.2 699.6L1399.9 699.4L1400.6 700.2L1401.3 697.8L1402.0 700.1L1402.7 699.5L1403.4 699.5L1404.1 699.0L1404.8 698.6L1405.5 699.6L1406.2 698.3L1406.9 698.5L1407.6 698.6L1408.3 700.6L1409.0 699.5L1409.7 699.6L1410.4 698.7L1411.1 699.9L1411.8 700.4L1412.5 698.7L1413.2 699.2L1413.9 698.8L1414.6 698.7L1415.3 698.6L1416.0 699.1L1416.7 697.6L1417.4 697.6L1418.1 697.2L1418.8 698.4L1419.5 697.9L1420.2 698.5L1420.9 699.0L1421.6 698.7L1422.3 699.0L1423.0 699.5L1423.7 699.6L1424.4 699.5L1425.1 699.2L1425.8 699.1L1426.5 699.9L1427.2 698.4L1427.9 698.6L1428.6 698.3L1429.3 698.8L1430.0 697.5L1430.7 697.7L1431.4 697.7L1432.1 698.9L1432.8 699.1L1433.5 699.1L1434.2 699.0L1434.9 700.4L1435.6 698.9L1436.3 697.2L1437.0 697.4L1437.7 697.3L1438.4 697.8L1439.1 696.9L1439.8 697.7L1440.5 696.5L1441.2 697.3L1441.9 696.8L1442.6 697.5L1443.3 697.3L1444.0 696.6L1444.7 698.6L1445.4 696.7L1446.1 697.1L1446.8 696.6L1447.5 698.3L1448.2 698.3L1448.9 697.6L1449.6 695.8L1450.3 697.8L1451.0 697.9L1451.7 695.0L1452.4 694.3L1453.1 692.4L1453.8 689.3L1454.5 685.6L1455.2 683.4L1455.9 680.5L1456.6 679.6L1457.3 677.5L1458.0 679.8L1458.7 681.3L1459.4 682.7L1460.1 685.7L1460.8 689.4L1461.5 692.2L1462.2 693.9L1462.9 696.9L1463.6 696.3L1464.3 696.2L1465.0 697.5L1465.7 697.2L1466.4 696.2L1467.1 698.6L1467.8 697.3L1468.5 697.5L1469.2 699.6L1469.9 698.2L1470.6 698.3L1471.3 699.7L1472.0 700.7L1472.7 698.3L1473.4 699.0L1474.1 699.4L1474.8 700.2L1475.5 699.7L1476.2 700.1L1476.9 698.2L1477.6 698.9L1478.3 699.9L1479.0 697.6L1479.7 699.4L1480.4 698.1L1481.1 698.7L1481.8 697.7L1482.5 698.6L1483.2 698.6L1483.9 697.7L1484.6 698.7L1485.3 696.8L1486.0 698.0L1486.7 696.6L1487.4 698.2L1488.1 698.3L1488.8 697.6L1489.5 699.3L1490.2 698.4L1490.9 697.6L1491.6 698.3L1492.3 699.1L1493.0 698.5L1493.7 699.2L1494.4 699.6L1495.1 699.3L1495.8 699.2L1496.5 699.0L1497.2 699.1L1497.9 699.7L1498.6 698.3L1499.3 698.5L1500.0 699.0L1500.7 697.6L1501.4 698.7L1502.1 697.8L1502.8 697.8L1503.5 696.8L1504.2 696.9L1504.9 697.7L1505.6 696.2L1506.3 697.6L1507.0 697.9L1507.7 697.5L1508.4 696.4L1509.1 697.1L1509.8 698.0L1510.5 698.3L1511.2 696.6L1511.9 697.4L1512.6 697.1L1513.3 695.8L1514.0 696.8L1514.7 696.2L1515.4 695.7L1516.1 697.8L1516.8 696.2L1517.5 695.9L1518.2 695.9L1518.9 698.1L1519.6 697.6L1520.3 697.4L1521.0 696.7L1521.7 697.6L1522.4 697.6L1523.1 698.1L1523.8 696.8L1524.5 698.2L1525.2 698.3L1525.9 697.0L1526.6 696.8L1527.3 697.2L1528.0 696.2L1528.7 696.7L1529.4 696.5L1530.1 697.4L1530.8 695.9L1531.5 696.3L1532.2 697.3L1532.9 695.3L1533.6 696.9L1534.3 695.8L1535.0 696.2L1535.7 695.6L1536.4 696.0L1537.1 693.7L1537.8 695.6L1538.5 695.0L1539.2 696.4L1539.9 696.3L1540.6 696.8L1541.3 697.7L1542.0 697.0L1542.7 696.8L1543.4 696.8L1544.1 696.2L1544.8 697.1L1545.5 696.5L1546.2 695.9L1546.9 696.3L1547.6 695.1L1548.3 694.9L1549.0 694.5L1549.7 694.1L1550.4 694.2L1551.1 695.5L1551.8 694.6L1552.5 694.9L1553.2 695.4L1553.9 695.0L1554.6 694.8L1555.3 695.1L1556.0 695.6L1556.7 696.7L1557.4 696.0L1558.1 696.1L1558.8 696.9L1559.5 696.9L1560.2 697.2L1560.9 697.6L1561.6 698.8L1562.3 697.9L1563.0 698.1L1563.7 699.5L1564.4 698.0L1565.1 697.6L1565.8 699.2L1566.5 698.7L1567.2 699.3L1567.9 699.7L1568.6 699.3L1569.3 700.5L1570.0 699.8L1570.7 700.8L1571.4 700.8L1572.1 699.6L1572.8 700.3L1573.5 699.4L1574.2 700.0L1574.9 698.7L1575.6 697.4L1576.3 697.3L1577.0 698.7L1577.7 698.0L1578.4 698.5L1579.1 697.6L1579.8 697.7L1580.5 696.6L1581.2 697.9L1581.9 697.9L1582.6 697.0L1583.3 697.7L1584.0 697.0L1584.7 697.5L1585.4 696.9L1586.1 696.5L1586.8 697.0L1587.5 695.6L1588.2 697.5L1588.9 695.7L1589.6 695.6L1590.3 697.0L1591.0 696.5L1591.7 697.6L1592.4 696.6L1593.1 698.2L1593.8 698.0L1594.5 696.8L1595.2 698.5L1595.9 697.3L1596.6 697.7L1597.3 697.4L1598.0 697.9L1598.7 697.8L1599.4 697.4L1600.1 697.4L1600.8 697.1L1601.5 697.0L1602.2 695.9L1602.9 696.3L1603.6 695.8L1604.3 696.2L1605.0 696.0L1605.7 695.9L1606.4 695.6L1607.1 697.0L1607.8 695.6L1608.5 696.7L1609.2 696.5L1609.9 697.8L1610.6 698.0L1611.3 697.8L1612.0 698.1L1612.7 697.3L1613.4 697.1L1614.1 698.1L1614.8 697.8L1615.5 697.2L1616.2 698.2L1616.9 697.9L1617.6 698.0L1618.3 698.9L1619.0 699.0L1619.7 698.8L1620.4 698.6L1621.1 698.2L1621.8 698.7L1622.5 698.7L1623.2 698.6L1623.9 700.2L1624.6 698.9L1625.3 699.2L1626.0 698.7L1626.7 698.9L1627.4 698.8L1628.1 698.9L1628.8 696.9L1629.5 698.8L1630.2 698.3L1630.9 698.0L1631.6 697.2L1632.3 696.8L1633.0 697.1L1633.7 698.0L1634.4 698.1L1635.1 697.8L1635.8 698.2L1636.5 697.3L1637.2 697.0L1637.9 698.0L1638.6 697.6L1639.3 697.1L1640.0 696.9L1640.7 696.0L1641.4 694.6L1642.1 695.6L1642.8 696.3L1643.5 695.7L1644.2 696.2L1644.9 696.2L1645.6 695.3L1646.3 695.9L1647.0 695.6L1647.7 694.8L1648.4 696.3L1649.1 695.5L1649.8 696.5L1650.5 696.6L1651.2 695.8L1651.9 695.5L1652.6 695.8L1653.3 695.3L1654.0 695.3L1654.7 694.4L1655.4 694.3L1656.1 694.1L1656.8 694.7L1657.5 694.0L1658.2 693.9L1658.9 695.4L1659.6 695.2L1660.3 695.0L1661.0 696.0L1661.7 694.2L1662.4 694.6L1663.1 694.8L1663.8 693.8L1664.5 693.2L1665.2 692.9L1665.9 691.9L1666.6 690.5L1667.3 690.2L1668.0 690.8L1668.7 690.4L1669.4 689.3L1670.1 689.8L1670.8 689.7L1671.5 689.1L1672.2 688.7L1672.9 687.2L1673.6 684.8L1674.3 681.9L1675.0 678.0L1675.7 670.6L1676.4 661.0L1677.1 649.2L1677.8 631.4L1678.5 610.7L1679.2 588.7L1679.9 569.7L1680.6 560.5L1681.3 564.0L1682.0 576.7L1682.7 591.1L1683.4 603.5L1684.1 611.5L1684.8 616.5L1685.5 619.6L1686.2 625.2L1686.9 633.1L1687.6 642.9L1688.3 653.7L1689.0 663.2L1689.7 671.0L1690.4 677.1L1691.1 681.5L1691.8 685.0L1692.5 687.8L1693.2 689.3L1693.9 691.8L1694.6 691.3L1695.3 692.6L1696.0 692.9L1696.7 692.9L1697.4 694.9L1698.1 694.9L1698.8 694.9L1699.5 695.3L1700.2 696.0L1700.9 697.2L1701.6 696.8L1702.3 696.4L1703.0 697.0L1703.7 696.6L1704.4 697.3L1705.1 697.3L1705.8 697.7L1706.5 697.8L1707.2 698.1L1707.9 697.8L1708.6 698.9L1709.3 699.6L1710.0 698.6L1710.7 700.1L1711.4 699.6L1712.1 699.9L1712.8 700.2L1713.5 701.2L1714.2 701.1L1714.9 701.4L1715.6 701.0L1716.3 702.5L1717.0 701.5L1717.7 702.8L1718.4 702.9L1719.1 702.6L1719.8 701.5L1720.5 702.0L1721.2 701.3L1721.9 702.2L1722.6 701.3L1723.3 701.3L1724.0 701.1L1724.7 701.2L1725.4 701.5L1726.1 702.0L1726.8 701.3L1727.5 701.4L1728.2 701.1L1728.9 700.9L1729.6 699.9L1730.3 700.1L1731.0 699.6L1731.7 699.8L1732.4 697.7L1733.1 697.8L1733.8 698.6L1734.5 699.3L1735.2 699.4L1735.9 700.1L1736.6 701.0L1737.3 701.9L1738.0 702.5L1738.7 702.3L1739.4 702.8L1740.1 702.2L1740.8 701.9L1741.5 702.5L1742.2 702.7L1742.9 701.9L1743.6 700.6L1744.3 702.0L1745.0 702.5L1745.7 702.2L1746.4 702.0L1747.1 702.1L1747.8 702.2L1748.5 703.7L1749.2 703.0L1749.9 703.2L1750.6 703.3L1751.3 703.4L1752.0 703.7L1752.7 703.3L1753.4 703.5L1754.1 702.9L1754.8 702.6L1755.5 701.9L1756.2 702.7L1756.9 703.3L1757.6 703.0L1758.3 703.2L1759.0 702.3L1759.7 701.9L1760.4 701.7L1761.1 701.3L1761.8 702.1L1762.5 702.2L1763.2 701.3L1763.9 702.0L1764.6 701.2L1765.3 702.1L1766.0 702.4L1766.7 701.7L1767.4 702.8L1768.1 702.2L1768.8 702.8L1769.5 703.7L1770.2 702.4L1770.9 703.4L1771.6 702.9L1772.3 703.5L1773.0 702.4L1773.7 702.1L1774.4 702.2L1775.1 702.8L1775.8 701.8L1776.5 701.7L1777.2 701.8L1777.9 702.6L1778.6 701.0L1779.3 701.1L1780.0 701.1L1780.7 700.8L1781.4 701.1L1782.1 701.0L1782.8 700.5L1783.5 702.8L1784.2 702.4L1784.9 702.0L1785.6 702.0L1786.3 702.1L1787.0 701.7L1787.7 702.1L1788.4 702.7L1789.1 702.7L1789.8 703.0L1790.5 702.2L1791.2 701.7L1791.9 702.5L1792.6 702.5L1793.3 701.9L1794.0 702.6L1794.7 703.7L1795.4 703.2L1796.1 703.7L1796.8 703.2L1797.5 704.2L1798.2 704.5L1798.9 702.4L1799.6 702.7L1800.3 703.4L1801.0 703.0L1801.7 702.7L1802.4 702.0L1803.1 701.9L1803.8 702.8L1804.5 703.8L1805.2 704.2L1805.9 705.2L1806.6 703.5L1807.3 704.6L1808.0 704.8L1808.7 705.7L1809.4 704.4L1810.1 705.2L1810.8 703.7L1811.5 704.9L1812.2 703.9L1812.9 703.9L1813.6 704.7L1814.3 704.4L1815.0 704.9L1815.7 704.9L1816.4 704.7L1817.1 705.5L1817.8 705.1L1818.5 704.9L1819.2 704.9L1819.9 704.2L1820.6 704.2L1821.3 704.6L1822.0 704.0L1822.7 703.4L1823.4 703.6L1824.1 702.8L1824.8 702.7L1825.5 703.1L1826.2 703.2L1826.9 703.8L1827.6 703.1L1828.3 703.3L1829.0 703.0L1829.7 702.5L1830.4 702.2L1831.1 702.4L1831.8 702.4L1832.5 701.5L1833.2 701.4L1833.9 701.4L1834.6 701.6L1835.3 700.9L1836.0 700.6L1836.7 699.3L1837.4 696.9L1838.1 692.9L1838.8 688.5L1839.5 682.5L1840.2 675.4L1840.9 668.3L1841.6 662.7L1842.3 661.5L1843.0 664.4L1843.7 669.0L1844.4 673.4L1845.1 675.4L1845.8 677.8L1846.5 677.1L1847.2 679.7L1847.9 682.9L1848.6 687.1L1849.3 690.9L1850.0 693.7L1850.7 696.1L1851.4 698.2L1852.1 698.8L1852.8 699.8L1853.5 699.5L1854.2 699.3L1854.9 699.3L1855.6 699.3L1856.3 700.4L1857.0 700.0L1857.7 700.4L1858.4 700.6L1859.1 701.3L1859.8 702.6L1860.5 700.9L1861.2 700.1L1861.9 700.5L1862.6 701.1L1863.3 700.4L1864.0 700.3L1864.7 700.8L1865.4 700.4L1866.1 700.0L1866.8 700.7L1867.5 700.1L1868.2 700.7L1868.9 701.8L1869.6 700.2L1870.3 702.3L1871.0 701.0L1871.7 702.1L1872.4 701.1L1873.1 702.0L1873.8 701.9L1874.5 702.0L1875.2 702.0L1875.9 703.2L1876.6 703.1L1877.3 702.1L1878.0 702.2L1878.7 703.2L1879.4 702.9L1880.1 704.7L1880.8 704.6L1881.5 704.3L1882.2 703.2L1882.9 703.7L1883.6 704.5L1884.3 703.7L1885.0 704.5L1885.7 704.2L1886.4 704.4L1887.1 703.7L1887.8 703.4L1888.5 702.6L1889.2 703.0L1889.9 702.8L1890.6 703.7L1891.3 703.0L1892.0 704.2L1892.7 704.3L1893.4 704.0L1894.1 702.8L1894.8 702.7L1895.5 703.1L1896.2 702.8L1896.9 702.4L1897.6 702.4L1898.3 702.0L1899.0 702.2L1899.7 702.5L1900.4 703.2L1901.1 703.9L1901.8 704.3L1902.5 704.5L1903.2 705.7L1903.9 705.4L1904.6 704.8L1905.3 706.3L1906.0 703.7L1906.7 705.1L1907.4 704.9L1908.1 704.6L1908.8 704.6L1909.5 705.2L1910.2 705.8L1910.9 705.9L1911.6 705.8L1912.3 705.7L1913.0 705.6L1913.7 706.0L1914.4 705.5L1915.1 705.4L1915.8 705.8L1916.5 704.9L1917.2 705.3L1917.9 705.2L1918.6 704.9L1919.3 706.0L1920.0 705.0L1920.7 705.3L1921.4 705.1L1922.1 705.8L1922.8 706.0L1923.5 706.6L1924.2 706.7L1924.9 706.8L1925.6 706.3L1926.3 706.6L1927.0 706.0L1927.7 705.6L1928.4 706.6L1929.1 705.7L1929.8 706.4L1930.5 706.8L1931.2 706.1L1931.9 706.7L1932.6 705.9L1933.3 705.7L1934.0 705.8L1934.7 706.1L1935.4 704.6L1936.1 705.2L1936.8 704.8L1937.5 705.4L1938.2 705.6L1938.9 704.9L1939.6 705.2L1940.3 706.1L1941.0 705.8L1941.7 705.3L1942.4 705.5L1943.1 705.8L1943.8 705.8L1944.5 704.4L1945.2 705.1L1945.9 706.1L1946.6 705.2L1947.3 705.3L1948.0 705.8L1948.7 706.1" fill="none" stroke="#0505e6" stroke-width="4.4" stroke-linejoin="round"/><path d="M198.0 1053.7L198.7 1053.1L199.4 1051.6L200.1 1054.6L200.8 1055.2L201.5 1052.3L202.2 1055.7L202.9 1053.8L203.6 1053.4L204.3 1051.0L205.0 1057.4L205.7 1056.7L206.4 1054.8L207.1 1054.6L207.8 1053.1L208.5 1056.3L209.2 1055.6L209.9 1056.9L210.6 1056.7L211.3 1054.3L212.0 1054.3L212.7 1057.7L213.4 1054.3L214.1 1057.7L214.8 1058.8L215.5 1055.2L216.2 1058.5L216.9 1057.4L217.6 1058.2L218.3 1056.2L219.0 1057.2L219.7 1057.9L220.4 1060.2L221.1 1058.3L221.8 1057.7L222.5 1054.5L223.2 1057.0L223.9 1055.2L224.6 1056.2L225.3 1056.9L226.0 1058.3L226.7 1057.9L227.4 1057.6L228.1 1057.5L228.8 1060.2L229.5 1056.8L230.2 1058.7L230.9 1061.2L231.6 1058.6L232.3 1060.3L233.0 1060.2L233.7 1061.9L234.4 1060.3L235.1 1055.4L235.8 1058.0L236.5 1058.3L237.2 1059.1L237.9 1058.3L238.6 1060.8L239.3 1059.5L240.0 1055.7L240.7 1056.6L241.4 1054.2L242.1 1060.6L242.8 1057.5L243.5 1057.6L244.2 1055.2L244.9 1057.2L245.6 1058.8L246.3 1057.5L247.0 1057.6L247.7 1057.4L248.4 1061.8L249.1 1057.7L249.8 1056.2L250.5 1057.8L251.2 1058.1L251.9 1058.6L252.6 1058.5L253.3 1057.3L254.0 1059.0L254.7 1060.1L255.4 1057.1L256.1 1062.6L256.8 1061.9L257.5 1055.6L258.2 1057.8L258.9 1059.8L259.6 1060.2L260.3 1060.9L261.0 1054.7L261.7 1056.0L262.4 1057.0L263.1 1058.8L263.8 1056.2L264.5 1058.9L265.2 1059.2L265.9 1059.9L266.6 1056.7L267.3 1059.3L268.0 1059.1L268.7 1058.3L269.4 1061.2L270.1 1058.5L270.8 1061.5L271.5 1058.3L272.2 1062.5L272.9 1062.7L273.6 1058.8L274.3 1060.8L275.0 1060.6L275.7 1058.0L276.4 1060.5L277.1 1059.7L277.8 1056.9L278.5 1058.3L279.2 1059.6L279.9 1057.8L280.6 1056.9L281.3 1061.0L282.0 1056.8L282.7 1059.3L283.4 1061.0L284.1 1060.9L284.8 1056.8L285.5 1059.7L286.2 1060.2L286.9 1060.1L287.6 1061.4L288.3 1061.1L289.0 1060.2L289.7 1060.1L290.4 1061.2L291.1 1061.4L291.8 1056.1L292.5 1062.8L293.2 1058.1L293.9 1060.3L294.6 1056.2L295.3 1058.1L296.0 1056.9L296.7 1060.9L297.4 1060.5L298.1 1058.9L298.8 1058.4L299.5 1059.3L300.2 1057.0L300.9 1057.7L301.6 1057.5L302.3 1060.2L303.0 1058.8L303.7 1056.5L304.4 1059.0L305.1 1059.0L305.8 1060.3L306.5 1057.0L307.2 1058.6L307.9 1061.5L308.6 1057.7L309.3 1057.9L310.0 1059.6L310.7 1058.2L311.4 1059.3L312.1 1058.6L312.8 1058.2L313.5 1060.9L314.2 1058.8L314.9 1057.8L315.6 1059.1L316.3 1059.6L317.0 1060.5L317.7 1061.7L318.4 1063.2L319.1 1058.3L319.8 1059.8L320.5 1057.2L321.2 1060.6L321.9 1061.2L322.6 1059.4L323.3 1059.0L324.0 1058.9L324.7 1057.9L325.4 1061.2L326.1 1063.0L326.8 1057.7L327.5 1062.1L328.2 1059.1L328.9 1056.9L329.6 1060.1L330.3 1060.2L331.0 1059.4L331.7 1058.1L332.4 1061.0L333.1 1057.6L333.8 1059.1L334.5 1059.3L335.2 1057.0L335.9 1055.8L336.6 1056.3L337.3 1058.7L338.0 1059.9L338.7 1056.1L339.4 1057.5L340.1 1060.9L340.8 1055.2L341.5 1058.8L342.2 1058.6L342.9 1059.4L343.6 1055.8L344.3 1058.8L345.0 1056.0L345.7 1060.4L346.4 1056.6L347.1 1058.5L347.8 1056.5L348.5 1057.8L349.2 1054.9L349.9 1057.7L350.6 1058.0L351.3 1056.9L352.0 1059.6L352.7 1057.7L353.4 1058.6L354.1 1058.3L354.8 1060.6L355.5 1056.4L356.2 1057.0L356.9 1057.0L357.6 1058.2L358.3 1057.5L359.0 1058.4L359.7 1057.5L360.4 1056.2L361.1 1057.1L361.8 1058.0L362.5 1053.7L363.2 1059.8L363.9 1056.6L364.6 1057.0L365.3 1058.1L366.0 1057.4L366.7 1055.5L367.4 1057.6L368.1 1060.4L368.8 1060.0L369.5 1060.4L370.2 1057.7L370.9 1058.4L371.6 1060.7L372.3 1061.5L373.0 1059.2L373.7 1057.6L374.4 1056.0L375.1 1061.4L375.8 1056.5L376.5 1059.5L377.2 1060.1L377.9 1063.8L378.6 1058.6L379.3 1058.0L380.0 1058.9L380.7 1059.0L381.4 1060.6L382.1 1059.8L382.8 1057.7L383.5 1055.7L384.2 1059.8L384.9 1058.3L385.6 1061.7L386.3 1057.1L387.0 1059.6L387.7 1058.0L388.4 1057.7L389.1 1061.9L389.8 1059.4L390.5 1058.7L391.2 1060.2L391.9 1057.5L392.6 1058.0L393.3 1057.3L394.0 1061.5L394.7 1058.6L395.4 1059.1L396.1 1059.9L396.8 1057.7L397.5 1057.8L398.2 1055.3L398.9 1058.7L399.6 1058.1L400.3 1056.9L401.0 1059.6L401.7 1054.7L402.4 1058.5L403.1 1055.6L403.8 1056.0L404.5 1057.3L405.2 1059.6L405.9 1054.9L406.6 1054.8L407.3 1054.1L408.0 1059.2L408.7 1056.6L409.4 1056.3L410.1 1059.1L410.8 1056.2L411.5 1052.6L412.2 1055.5L412.9 1054.7L413.6 1060.2L414.3 1054.6L415.0 1057.3L415.7 1055.8L416.4 1055.7L417.1 1056.3L417.8 1055.9L418.5 1054.9L419.2 1053.9L419.9 1054.6L420.6 1053.6L421.3 1053.4L422.0 1054.5L422.7 1053.5L423.4 1054.1L424.1 1052.7L424.8 1056.1L425.5 1051.8L426.2 1051.6L426.9 1055.2L427.6 1052.4L428.3 1053.6L429.0 1054.4L429.7 1051.6L430.4 1049.6L431.1 1049.6L431.8 1045.5L432.5 1040.0L433.2 1033.6L433.9 1029.3L434.6 1020.7L435.3 1011.9L436.0 1002.9L436.7 996.9L437.4 995.1L438.1 998.0L438.8 1005.5L439.5 1014.3L440.2 1023.0L440.9 1031.0L441.6 1038.6L442.3 1043.0L443.0 1046.5L443.7 1047.3L444.4 1044.9L445.1 1052.0L445.8 1053.3L446.5 1053.0L447.2 1053.2L447.9 1053.7L448.6 1056.4L449.3 1052.5L450.0 1054.5L450.7 1053.2L451.4 1052.9L452.1 1051.5L452.8 1051.2L453.5 1049.9L454.2 1052.9L454.9 1051.7L455.6 1050.4L456.3 1051.4L457.0 1051.0L457.7 1055.9L458.4 1053.2L459.1 1054.1L459.8 1052.3L460.5 1052.8L461.2 1056.4L461.9 1054.4L462.6 1055.2L463.3 1057.8L464.0 1058.3L464.7 1056.1L465.4 1056.0L466.1 1055.8L466.8 1055.1L467.5 1059.0L468.2 1053.6L468.9 1055.3L469.6 1052.1L470.3 1053.1L471.0 1055.7L471.7 1055.8L472.4 1055.6L473.1 1054.5L473.8 1053.9L474.5 1054.2L475.2 1054.4L475.9 1056.9L476.6 1057.5L477.3 1056.0L478.0 1054.6L478.7 1054.2L479.4 1056.6L480.1 1056.2L480.8 1054.0L481.5 1059.6L482.2 1057.6L482.9 1057.2L483.6 1056.4L484.3 1056.3L485.0 1059.1L485.7 1055.9L486.4 1057.5L487.1 1058.3L487.8 1060.2L488.5 1058.1L489.2 1057.0L489.9 1056.3L490.6 1058.4L491.3 1058.7L492.0 1056.4L492.7 1058.1L493.4 1057.0L494.1 1054.7L494.8 1055.8L495.5 1058.8L496.2 1059.8L496.9 1058.5L497.6 1056.9L498.3 1055.7L499.0 1057.5L499.7 1056.8L500.4 1053.4L501.1 1057.0L501.8 1054.8L502.5 1057.1L503.2 1057.0L503.9 1057.4L504.6 1057.9L505.3 1057.3L506.0 1054.3L506.7 1054.3L507.4 1057.7L508.1 1056.9L508.8 1053.7L509.5 1053.2L510.2 1058.2L510.9 1060.6L511.6 1058.5L512.3 1057.0L513.0 1057.9L513.7 1053.1L514.4 1056.0L515.1 1059.5L515.8 1059.4L516.5 1054.8L517.2 1060.3L517.9 1059.3L518.6 1060.0L519.3 1058.0L520.0 1058.2L520.7 1056.4L521.4 1058.6L522.1 1059.5L522.8 1056.6L523.5 1058.9L524.2 1057.5L524.9 1060.0L525.6 1059.8L526.3 1054.0L527.0 1058.1L527.7 1058.6L528.4 1055.7L529.1 1056.0L529.8 1056.0L530.5 1054.4L531.2 1056.1L531.9 1058.8L532.6 1057.2L533.3 1058.9L534.0 1058.1L534.7 1058.4L535.4 1056.6L536.1 1057.5L536.8 1059.5L537.5 1058.7L538.2 1057.0L538.9 1055.6L539.6 1055.6L540.3 1058.0L541.0 1058.8L541.7 1055.6L542.4 1059.2L543.1 1059.6L543.8 1059.6L544.5 1058.0L545.2 1062.4L545.9 1059.9L546.6 1056.0L547.3 1057.0L548.0 1059.4L548.7 1059.0L549.4 1058.3L550.1 1058.1L550.8 1057.7L551.5 1057.1L552.2 1056.0L552.9 1058.4L553.6 1052.8L554.3 1056.0L555.0 1059.2L555.7 1055.9L556.4 1055.3L557.1 1060.2L557.8 1058.7L558.5 1056.6L559.2 1055.6L559.9 1056.0L560.6 1055.6L561.3 1055.7L562.0 1054.9L562.7 1057.0L563.4 1055.4L564.1 1053.5L564.8 1054.5L565.5 1056.7L566.2 1055.2L566.9 1052.8L567.6 1059.0L568.3 1057.2L569.0 1055.5L569.7 1055.3L570.4 1056.9L571.1 1058.4L571.8 1055.3L572.5 1057.2L573.2 1055.7L573.9 1057.4L574.6 1055.1L575.3 1054.0L576.0 1057.0L576.7 1056.6L577.4 1057.8L578.1 1055.5L578.8 1058.7L579.5 1056.6L580.2 1058.7L580.9 1055.5L581.6 1058.2L582.3 1055.4L583.0 1055.6L583.7 1056.8L584.4 1052.4L585.1 1053.6L585.8 1058.3L586.5 1053.1L587.2 1054.7L587.9 1056.1L588.6 1057.2L589.3 1053.6L590.0 1053.9L590.7 1051.1L591.4 1051.6L592.1 1053.3L592.8 1051.9L593.5 1051.2L594.2 1052.1L594.9 1051.9L595.6 1052.2L596.3 1051.8L597.0 1051.1L597.7 1054.1L598.4 1051.5L599.1 1055.3L599.8 1057.3L600.5 1056.6L601.2 1058.1L601.9 1052.8L602.6 1054.8L603.3 1052.9L604.0 1053.0L604.7 1051.4L605.4 1052.2L606.1 1055.5L606.8 1055.3L607.5 1056.1L608.2 1056.0L608.9 1055.5L609.6 1053.0L610.3 1054.2L611.0 1055.7L611.7 1056.5L612.4 1053.9L613.1 1053.6L613.8 1053.5L614.5 1056.5L615.2 1054.7L615.9 1053.1L616.6 1052.2L617.3 1053.8L618.0 1050.2L618.7 1052.3L619.4 1051.5L620.1 1051.4L620.8 1052.7L621.5 1053.0L622.2 1057.1L622.9 1052.4L623.6 1053.2L624.3 1050.6L625.0 1049.2L625.7 1053.5L626.4 1054.7L627.1 1049.8L627.8 1050.6L628.5 1051.2L629.2 1047.5L629.9 1040.5L630.6 1039.5L631.3 1034.2L632.0 1029.2L632.7 1023.4L633.4 1020.4L634.1 1019.6L634.8 1021.2L635.5 1026.0L636.2 1030.6L636.9 1035.3L637.6 1038.1L638.3 1041.9L639.0 1043.7L639.7 1048.0L640.4 1046.7L641.1 1045.8L641.8 1050.0L642.5 1048.9L643.2 1049.8L643.9 1048.5L644.6 1050.1L645.3 1049.4L646.0 1048.7L646.7 1051.0L647.4 1051.8L648.1 1052.5L648.8 1054.3L649.5 1050.8L650.2 1054.4L650.9 1053.0L651.6 1053.9L652.3 1055.2L653.0 1054.7L653.7 1053.7L654.4 1056.3L655.1 1055.4L655.8 1057.4L656.5 1058.4L657.2 1056.4L657.9 1055.5L658.6 1057.4L659.3 1058.4L660.0 1057.2L660.7 1054.5L661.4 1053.3L662.1 1054.4L662.8 1054.5L663.5 1057.3L664.2 1056.8L664.9 1058.4L665.6 1057.2L666.3 1060.1L667.0 1057.7L667.7 1058.7L668.4 1057.6L669.1 1059.3L669.8 1060.7L670.5 1060.5L671.2 1061.4L671.9 1058.5L672.6 1059.9L673.3 1061.5L674.0 1058.9L674.7 1057.8L675.4 1057.2L676.1 1056.4L676.8 1057.1L677.5 1058.8L678.2 1057.3L678.9 1056.5L679.6 1055.4L680.3 1055.0L681.0 1060.6L681.7 1056.4L682.4 1057.4L683.1 1056.6L683.8 1057.5L684.5 1056.5L685.2 1057.2L685.9 1059.1L686.6 1055.6L687.3 1057.4L688.0 1056.5L688.7 1057.8L689.4 1055.7L690.1 1057.3L690.8 1055.1L691.5 1053.7L692.2 1054.3L692.9 1054.7L693.6 1054.4L694.3 1055.6L695.0 1057.8L695.7 1054.5L696.4 1057.0L697.1 1056.7L697.8 1055.5L698.5 1055.3L699.2 1057.5L699.9 1057.8L700.6 1056.8L701.3 1057.2L702.0 1057.5L702.7 1055.5L703.4 1057.6L704.1 1057.8L704.8 1059.9L705.5 1055.2L706.2 1055.7L706.9 1057.0L707.6 1055.9L708.3 1056.1L709.0 1056.7L709.7 1056.3L710.4 1056.7L711.1 1057.3L711.8 1054.0L712.5 1057.0L713.2 1052.5L713.9 1058.1L714.6 1056.6L715.3 1053.9L716.0 1055.9L716.7 1053.5L717.4 1053.7L718.1 1053.4L718.8 1052.0L719.5 1050.6L720.2 1050.4L720.9 1048.1L721.6 1046.8L722.3 1045.0L723.0 1043.1L723.7 1047.8L724.4 1046.6L725.1 1043.8L725.8 1046.9L726.5 1047.3L727.2 1044.3L727.9 1046.7L728.6 1048.1L729.3 1051.1L730.0 1050.6L730.7 1051.3L731.4 1050.3L732.1 1051.6L732.8 1048.4L733.5 1050.6L734.2 1049.6L734.9 1044.7L735.6 1044.0L736.3 1040.6L737.0 1035.9L737.7 1030.4L738.4 1025.3L739.1 1024.1L739.8 1026.2L740.5 1031.5L741.2 1036.0L741.9 1040.5L742.6 1041.6L743.3 1046.7L744.0 1048.7L744.7 1048.1L745.4 1048.4L746.1 1049.5L746.8 1051.8L747.5 1048.0L748.2 1049.8L748.9 1050.1L749.6 1050.1L750.3 1051.0L751.0 1049.9L751.7 1048.5L752.4 1049.3L753.1 1047.9L753.8 1045.6L754.5 1044.4L755.2 1041.4L755.9 1042.4L756.6 1040.4L757.3 1039.1L758.0 1039.5L758.7 1036.3L759.4 1036.0L760.1 1034.9L760.8 1034.1L761.5 1030.8L762.2 1029.2L762.9 1027.9L763.6 1023.5L764.3 1017.0L765.0 1011.9L765.7 1008.7L766.4 1003.9L767.1 997.4L767.8 992.7L768.5 987.4L769.2 983.7L769.9 981.1L770.6 975.9L771.3 966.3L772.0 961.0L772.7 953.4L773.4 946.3L774.1 941.3L774.8 933.9L775.5 924.9L776.2 918.2L776.9 907.9L777.6 900.2L778.3 887.6L779.0 878.3L779.7 866.1L780.4 853.6L781.1 840.9L781.8 827.9L782.5 817.7L783.2 811.2L783.9 809.3L784.6 812.6L785.3 818.6L786.0 826.2L786.7 834.2L787.4 840.2L788.1 844.3L788.8 847.4L789.5 848.5L790.2 849.6L790.9 851.6L791.6 855.3L792.3 863.7L793.0 873.6L793.7 887.6L794.4 903.1L795.1 919.1L795.8 934.9L796.5 949.6L797.2 963.6L797.9 975.6L798.6 988.3L799.3 995.2L800.0 1005.2L800.7 1011.9L801.4 1017.3L802.1 1021.4L802.8 1026.1L803.5 1027.4L804.2 1033.0L804.9 1036.0L805.6 1037.3L806.3 1041.0L807.0 1042.7L807.7 1043.0L808.4 1046.5L809.1 1045.9L809.8 1051.0L810.5 1047.3L811.2 1048.5L811.9 1049.5L812.6 1051.4L813.3 1053.2L814.0 1052.4L814.7 1052.3L815.4 1055.9L816.1 1055.1L816.8 1053.7L817.5 1054.2L818.2 1052.6L818.9 1054.9L819.6 1057.4L820.3 1054.0L821.0 1054.2L821.7 1056.8L822.4 1054.1L823.1 1059.7L823.8 1056.4L824.5 1058.0L825.2 1059.1L825.9 1061.2L826.6 1060.3L827.3 1057.3L828.0 1057.5L828.7 1059.7L829.4 1056.4L830.1 1058.5L830.8 1057.6L831.5 1059.7L832.2 1060.4L832.9 1055.7L833.6 1059.9L834.3 1060.5L835.0 1058.9L835.7 1059.4L836.4 1058.8L837.1 1060.3L837.8 1061.5L838.5 1063.1L839.2 1063.4L839.9 1061.2L840.6 1060.3L841.3 1062.4L842.0 1057.0L842.7 1058.3L843.4 1060.6L844.1 1062.6L844.8 1058.8L845.5 1060.2L846.2 1058.9L846.9 1060.6L847.6 1060.8L848.3 1060.0L849.0 1061.7L849.7 1061.1L850.4 1062.3L851.1 1061.7L851.8 1060.8L852.5 1063.0L853.2 1064.3L853.9 1062.5L854.6 1065.5L855.3 1064.5L856.0 1063.5L856.7 1063.9L857.4 1063.2L858.1 1062.5L858.8 1064.7L859.5 1064.6L860.2 1062.8L860.9 1063.1L861.6 1063.0L862.3 1064.1L863.0 1065.0L863.7 1062.2L864.4 1063.3L865.1 1062.7L865.8 1063.3L866.5 1064.3L867.2 1061.4L867.9 1060.0L868.6 1062.7L869.3 1061.2L870.0 1065.6L870.7 1062.9L871.4 1063.7L872.1 1064.6L872.8 1064.6L873.5 1063.9L874.2 1064.5L874.9 1065.7L875.6 1064.1L876.3 1066.7L877.0 1064.7L877.7 1061.2L878.4 1065.1L879.1 1061.6L879.8 1064.1L880.5 1066.4L881.2 1064.9L881.9 1062.2L882.6 1062.7L883.3 1063.8L884.0 1065.6L884.7 1062.9L885.4 1065.3L886.1 1064.3L886.8 1063.7L887.5 1063.6L888.2 1065.7L888.9 1061.6L889.6 1061.9L890.3 1064.4L891.0 1064.7L891.7 1062.1L892.4 1062.8L893.1 1062.7L893.8 1064.8L894.5 1063.3L895.2 1065.6L895.9 1064.4L896.6 1063.4L897.3 1062.9L898.0 1063.0L898.7 1063.2L899.4 1062.1L900.1 1062.5L900.8 1063.4L901.5 1062.5L902.2 1064.0L902.9 1062.8L903.6 1062.1L904.3 1063.4L905.0 1065.4L905.7 1065.4L906.4 1061.9L907.1 1064.4L907.8 1063.4L908.5 1063.6L909.2 1063.4L909.9 1063.4L910.6 1063.0L911.3 1063.2L912.0 1063.8L912.7 1062.2L913.4 1062.2L914.1 1062.4L914.8 1062.4L915.5 1064.4L916.2 1062.2L916.9 1063.2L917.6 1063.1L918.3 1063.6L919.0 1062.7L919.7 1064.0L920.4 1062.9L921.1 1063.5L921.8 1064.3L922.5 1062.0L923.2 1064.4L923.9 1065.8L924.6 1064.1L925.3 1063.5L926.0 1065.7L926.7 1063.2L927.4 1064.1L928.1 1059.4L928.8 1061.8L929.5 1060.6L930.2 1061.3L930.9 1062.0L931.6 1060.4L932.3 1060.4L933.0 1057.4L933.7 1061.7L934.4 1062.4L935.1 1060.9L935.8 1060.2L936.5 1061.2L937.2 1062.1L937.9 1061.7L938.6 1063.4L939.3 1060.2L940.0 1059.0L940.7 1060.9L941.4 1061.4L942.1 1059.0L942.8 1059.1L943.5 1058.1L944.2 1057.2L944.9 1057.8L945.6 1056.3L946.3 1059.0L947.0 1059.1L947.7 1059.3L948.4 1056.8L949.1 1056.3L949.8 1054.4L950.5 1053.9L951.2 1056.1L951.9 1057.8L952.6 1053.1L953.3 1053.6L954.0 1054.9L954.7 1052.9L955.4 1054.0L956.1 1052.6L956.8 1051.4L957.5 1050.9L958.2 1049.7L958.9 1048.5L959.6 1048.1L960.3 1046.9L961.0 1045.7L961.7 1044.6L962.4 1044.0L963.1 1042.6L963.8 1041.9L964.5 1041.1L965.2 1039.9L965.9 1039.3L966.6 1037.7L967.3 1037.5L968.0 1036.7L968.7 1036.5L969.4 1035.5L970.1 1035.4L970.8 1035.0L971.5 1034.8L972.2 1035.0L972.9 1035.5L973.6 1036.4L974.3 1036.7L975.0 1037.7L975.7 1038.8L976.4 1039.8L977.1 1040.7L977.8 1041.9L978.5 1042.1L979.2 1043.3L979.9 1044.5L980.6 1045.7L981.3 1046.5L982.0 1047.1L982.7 1048.3L983.4 1048.9L984.1 1050.4L984.8 1050.6L985.5 1052.6L986.2 1054.0L986.9 1054.2L987.6 1051.7L988.3 1054.0L989.0 1053.7L989.7 1054.1L990.4 1056.5L991.1 1055.5L991.8 1054.2L992.5 1055.2L993.2 1057.7L993.9 1057.8L994.6 1056.8L995.3 1056.6L996.0 1058.2L996.7 1058.8L997.4 1060.6L998.1 1059.4L998.8 1061.0L999.5 1061.7L1000.2 1058.6L1000.9 1059.6L1001.6 1061.8L1002.3 1059.7L1003.0 1060.2L1003.7 1061.4L1004.4 1059.6L1005.1 1060.0L1005.8 1058.7L1006.5 1061.0L1007.2 1059.9L1007.9 1060.1L1008.6 1058.0L1009.3 1062.1L1010.0 1062.2L1010.7 1061.0L1011.4 1063.3L1012.1 1059.5L1012.8 1062.1L1013.5 1060.5L1014.2 1065.2L1014.9 1059.7L1015.6 1061.5L1016.3 1062.2L1017.0 1064.1L1017.7 1064.2L1018.4 1063.8L1019.1 1063.1L1019.8 1065.6L1020.5 1062.5L1021.2 1063.6L1021.9 1065.2L1022.6 1062.0L1023.3 1062.5L1024.0 1064.4L1024.7 1063.7L1025.4 1061.8L1026.1 1063.1L1026.8 1065.1L1027.5 1062.9L1028.2 1064.1L1028.9 1063.4L1029.6 1062.6L1030.3 1064.9L1031.0 1064.0L1031.7 1064.1L1032.4 1062.7L1033.1 1063.2L1033.8 1063.7L1034.5 1064.5L1035.2 1064.4L1035.9 1064.9L1036.6 1067.4L1037.3 1065.3L1038.0 1066.3L1038.7 1066.4L1039.4 1066.3L1040.1 1065.5L1040.8 1065.9L1041.5 1067.5L1042.2 1066.2L1042.9 1065.8L1043.6 1068.3L1044.3 1065.1L1045.0 1067.4L1045.7 1066.5L1046.4 1064.6L1047.1 1065.5L1047.8 1065.5L1048.5 1067.3L1049.2 1067.1L1049.9 1066.0L1050.6 1065.1L1051.3 1064.5L1052.0 1065.9L1052.7 1064.6L1053.4 1065.7L1054.1 1065.7L1054.8 1066.3L1055.5 1067.0L1056.2 1066.1L1056.9 1066.5L1057.6 1065.8L1058.3 1067.1L1059.0 1066.8L1059.7 1067.6L1060.4 1067.3L1061.1 1065.1L1061.8 1064.4L1062.5 1066.5L1063.2 1067.1L1063.9 1065.5L1064.6 1068.0L1065.3 1066.8L1066.0 1067.0L1066.7 1067.8L1067.4 1066.3L1068.1 1066.3L1068.8 1067.8L1069.5 1067.1L1070.2 1068.3L1070.9 1068.2L1071.6 1065.5L1072.3 1066.9L1073.0 1068.0L1073.7 1064.9L1074.4 1066.8L1075.1 1065.7L1075.8 1065.1L1076.5 1068.1L1077.2 1068.0L1077.9 1066.3L1078.6 1066.0L1079.3 1067.7L1080.0 1067.4L1080.7 1066.1L1081.4 1067.0L1082.1 1066.2L1082.8 1065.6L1083.5 1066.3L1084.2 1065.1L1084.9 1066.1L1085.6 1065.3L1086.3 1065.2L1087.0 1065.4L1087.7 1066.6L1088.4 1067.3L1089.1 1066.8L1089.8 1065.5L1090.5 1066.9L1091.2 1065.4L1091.9 1065.3L1092.6 1066.4L1093.3 1067.6L1094.0 1067.8L1094.7 1067.9L1095.4 1068.7L1096.1 1068.1L1096.8 1066.6L1097.5 1067.3L1098.2 1065.8L1098.9 1066.1L1099.6 1066.1L1100.3 1065.4L1101.0 1064.0L1101.7 1065.4L1102.4 1065.4L1103.1 1065.6L1103.8 1065.4L1104.5 1064.8L1105.2 1064.4L1105.9 1066.6L1106.6 1066.8L1107.3 1066.6L1108.0 1066.5L1108.7 1068.7L1109.4 1067.6L1110.1 1067.1L1110.8 1067.7L1111.5 1066.6L1112.2 1067.0L1112.9 1066.4L1113.6 1066.4L1114.3 1065.8L1115.0 1065.4L1115.7 1066.4L1116.4 1067.1L1117.1 1065.3L1117.8 1065.7L1118.5 1065.3L1119.2 1067.2L1119.9 1066.1L1120.6 1067.2L1121.3 1065.7L1122.0 1067.2L1122.7 1066.0L1123.4 1066.1L1124.1 1066.9L1124.8 1065.9L1125.5 1065.4L1126.2 1066.4L1126.9 1065.2L1127.6 1066.0L1128.3 1067.0L1129.0 1064.0L1129.7 1064.1L1130.4 1063.0L1131.1 1063.4L1131.8 1065.1L1132.5 1065.0L1133.2 1065.1L1133.9 1065.3L1134.6 1064.2L1135.3 1063.4L1136.0 1065.8L1136.7 1064.9L1137.4 1065.6L1138.1 1064.4L1138.8 1065.1L1139.5 1063.9L1140.2 1064.4L1140.9 1064.1L1141.6 1064.5L1142.3 1065.2L1143.0 1064.3L1143.7 1060.8L1144.4 1063.0L1145.1 1062.9L1145.8 1063.3L1146.5 1062.4L1147.2 1061.4L1147.9 1061.2L1148.6 1061.5L1149.3 1061.1L1150.0 1063.0L1150.7 1062.4L1151.4 1062.0L1152.1 1062.8L1152.8 1063.7L1153.5 1061.5L1154.2 1061.3L1154.9 1060.7L1155.6 1059.4L1156.3 1059.4L1157.0 1058.4L1157.7 1058.6L1158.4 1057.1L1159.1 1055.4L1159.8 1051.0L1160.5 1048.4L1161.2 1041.2L1161.9 1035.2L1162.6 1027.4L1163.3 1018.9L1164.0 1012.0L1164.7 1008.9L1165.4 1010.6L1166.1 1016.5L1166.8 1024.8L1167.5 1033.2L1168.2 1041.0L1168.9 1047.0L1169.6 1052.0L1170.3 1055.3L1171.0 1057.2L1171.7 1062.4L1172.4 1062.0L1173.1 1060.0L1173.8 1062.4L1174.5 1061.7L1175.2 1060.4L1175.9 1062.1L1176.6 1062.6L1177.3 1063.0L1178.0 1063.6L1178.7 1062.0L1179.4 1062.8L1180.1 1063.4L1180.8 1063.3L1181.5 1063.1L1182.2 1063.0L1182.9 1064.1L1183.6 1062.3L1184.3 1062.5L1185.0 1065.5L1185.7 1064.6L1186.4 1065.2L1187.1 1064.4L1187.8 1063.7L1188.5 1063.3L1189.2 1063.3L1189.9 1062.2L1190.6 1061.7L1191.3 1060.7L1192.0 1060.3L1192.7 1059.1L1193.4 1058.5L1194.1 1055.6L1194.8 1055.5L1195.5 1056.1L1196.2 1055.8L1196.9 1054.2L1197.6 1057.6L1198.3 1058.4L1199.0 1059.2L1199.7 1060.3L1200.4 1061.1L1201.1 1063.6L1201.8 1064.0L1202.5 1064.2L1203.2 1065.3L1203.9 1065.2L1204.6 1063.7L1205.3 1063.4L1206.0 1063.4L1206.7 1064.8L1207.4 1064.3L1208.1 1065.7L1208.8 1065.6L1209.5 1065.6L1210.2 1065.4L1210.9 1066.8L1211.6 1069.2L1212.3 1067.1L1213.0 1067.1L1213.7 1067.4L1214.4 1068.5L1215.1 1067.1L1215.8 1066.1L1216.5 1066.4L1217.2 1066.7L1217.9 1067.0L1218.6 1067.9L1219.3 1069.2L1220.0 1068.4L1220.7 1067.8L1221.4 1067.2L1222.1 1066.4L1222.8 1067.4L1223.5 1068.0L1224.2 1067.7L1224.9 1066.9L1225.6 1067.5L1226.3 1066.6L1227.0 1066.3L1227.7 1066.0L1228.4 1065.9L1229.1 1065.7L1229.8 1066.5L1230.5 1065.9L1231.2 1066.1L1231.9 1067.4L1232.6 1067.4L1233.3 1068.0L1234.0 1066.7L1234.7 1068.6L1235.4 1067.8L1236.1 1067.2L1236.8 1068.0L1237.5 1067.3L1238.2 1067.5L1238.9 1067.9L1239.6 1069.0L1240.3 1067.2L1241.0 1068.5L1241.7 1068.0L1242.4 1069.3L1243.1 1068.1L1243.8 1068.2L1244.5 1068.6L1245.2 1066.6L1245.9 1067.0L1246.6 1066.1L1247.3 1066.5L1248.0 1067.4L1248.7 1066.9L1249.4 1067.3L1250.1 1066.7L1250.8 1066.4L1251.5 1066.7L1252.2 1066.1L1252.9 1065.9L1253.6 1065.6L1254.3 1066.9L1255.0 1067.4L1255.7 1066.3L1256.4 1066.9L1257.1 1065.6L1257.8 1066.5L1258.5 1067.5L1259.2 1066.6L1259.9 1068.0L1260.6 1067.5L1261.3 1068.1L1262.0 1067.5L1262.7 1066.8L1263.4 1067.8L1264.1 1068.3L1264.8 1067.2L1265.5 1067.7L1266.2 1066.7L1266.9 1066.9L1267.6 1068.0L1268.3 1067.0L1269.0 1066.5L1269.7 1067.7L1270.4 1067.5L1271.1 1067.2L1271.8 1068.0L1272.5 1065.3L1273.2 1067.7L1273.9 1068.6L1274.6 1067.3L1275.3 1065.7L1276.0 1067.9L1276.7 1068.6L1277.4 1066.9L1278.1 1065.5L1278.8 1065.6L1279.5 1066.0L1280.2 1066.5L1280.9 1067.5L1281.6 1067.5L1282.3 1065.9L1283.0 1067.6L1283.7 1067.7L1284.4 1069.1L1285.1 1067.1L1285.8 1066.3L1286.5 1066.9L1287.2 1067.2L1287.9 1065.6L1288.6 1067.6L1289.3 1066.7L1290.0 1067.3L1290.7 1067.3L1291.4 1067.3L1292.1 1068.1L1292.8 1068.5L1293.5 1067.3L1294.2 1067.7L1294.9 1068.7L1295.6 1068.2L1296.3 1067.7L1297.0 1067.9L1297.7 1066.9L1298.4 1066.7L1299.1 1064.2L1299.8 1066.3L1300.5 1067.4L1301.2 1066.7L1301.9 1066.7L1302.6 1066.4L1303.3 1065.6L1304.0 1066.2L1304.7 1065.6L1305.4 1065.2L1306.1 1065.2L1306.8 1064.6L1307.5 1065.1L1308.2 1065.5L1308.9 1065.8L1309.6 1065.2L1310.3 1065.8L1311.0 1065.4L1311.7 1064.0L1312.4 1064.5L1313.1 1066.1L1313.8 1065.8L1314.5 1067.3L1315.2 1066.1L1315.9 1066.7L1316.6 1066.5L1317.3 1066.3L1318.0 1066.2L1318.7 1066.5L1319.4 1066.5L1320.1 1065.9L1320.8 1066.3L1321.5 1066.4L1322.2 1065.8L1322.9 1065.5L1323.6 1065.5L1324.3 1065.7L1325.0 1065.6L1325.7 1066.0L1326.4 1067.8L1327.1 1066.8L1327.8 1066.2L1328.5 1066.9L1329.2 1067.3L1329.9 1068.1L1330.6 1068.6L1331.3 1067.4L1332.0 1070.0L1332.7 1068.4L1333.4 1069.4L1334.1 1069.2L1334.8 1068.9L1335.5 1069.0L1336.2 1071.6L1336.9 1071.4L1337.6 1069.9L1338.3 1069.9L1339.0 1071.9L1339.7 1070.5L1340.4 1071.6L1341.1 1072.6L1341.8 1071.7L1342.5 1071.9L1343.2 1070.8L1343.9 1069.1L1344.6 1069.2L1345.3 1068.2L1346.0 1069.3L1346.7 1068.0L1347.4 1068.9L1348.1 1068.5L1348.8 1068.6L1349.5 1069.5L1350.2 1068.9L1350.9 1068.7L1351.6 1069.9L1352.3 1069.2L1353.0 1068.4L1353.7 1070.2L1354.4 1068.6L1355.1 1069.7L1355.8 1069.7L1356.5 1069.1L1357.2 1068.6L1357.9 1068.9L1358.6 1068.9L1359.3 1068.7L1360.0 1070.3L1360.7 1069.8L1361.4 1070.1L1362.1 1071.9L1362.8 1070.9L1363.5 1070.7L1364.2 1071.7L1364.9 1071.8L1365.6 1071.6L1366.3 1072.6L1367.0 1070.5L1367.7 1071.2L1368.4 1070.4L1369.1 1070.4L1369.8 1069.3L1370.5 1069.2L1371.2 1069.5L1371.9 1070.1L1372.6 1070.7L1373.3 1071.2L1374.0 1068.9L1374.7 1070.5L1375.4 1069.9L1376.1 1069.5L1376.8 1068.8L1377.5 1069.7L1378.2 1068.6L1378.9 1070.8L1379.6 1069.8L1380.3 1070.6L1381.0 1071.0L1381.7 1071.8L1382.4 1071.0L1383.1 1072.7L1383.8 1072.6L1384.5 1073.3L1385.2 1072.4L1385.9 1072.0L1386.6 1070.6L1387.3 1071.2L1388.0 1072.2L1388.7 1070.6L1389.4 1070.4L1390.1 1070.4L1390.8 1070.7L1391.5 1068.9L1392.2 1070.7L1392.9 1069.6L1393.6 1069.3L1394.3 1068.5L1395.0 1069.4L1395.7 1067.7L1396.4 1068.5L1397.1 1068.1L1397.8 1067.4L1398.5 1068.3L1399.2 1069.0L1399.9 1068.5L1400.6 1068.5L1401.3 1068.8L1402.0 1068.4L1402.7 1068.2L1403.4 1069.0L1404.1 1068.5L1404.8 1069.5L1405.5 1069.8L1406.2 1070.4L1406.9 1070.4L1407.6 1069.8L1408.3 1070.4L1409.0 1069.5L1409.7 1070.5L1410.4 1069.9L1411.1 1071.0L1411.8 1069.9L1412.5 1070.6L1413.2 1070.3L1413.9 1071.3L1414.6 1071.4L1415.3 1070.5L1416.0 1072.1L1416.7 1071.0L1417.4 1069.5L1418.1 1069.5L1418.8 1068.6L1419.5 1068.3L1420.2 1069.3L1420.9 1068.1L1421.6 1069.6L1422.3 1068.4L1423.0 1069.2L1423.7 1070.5L1424.4 1069.2L1425.1 1069.3L1425.8 1070.0L1426.5 1068.9L1427.2 1069.3L1427.9 1068.4L1428.6 1068.7L1429.3 1069.1L1430.0 1069.3L1430.7 1069.1L1431.4 1070.0L1432.1 1070.5L1432.8 1070.8L1433.5 1070.6L1434.2 1070.0L1434.9 1070.9L1435.6 1070.7L1436.3 1069.4L1437.0 1068.3L1437.7 1069.2L1438.4 1069.6L1439.1 1069.4L1439.8 1068.3L1440.5 1069.9L1441.2 1068.8L1441.9 1070.0L1442.6 1069.3L1443.3 1070.0L1444.0 1069.5L1444.7 1068.7L1445.4 1069.0L1446.1 1068.1L1446.8 1068.2L1447.5 1068.4L1448.2 1068.4L1448.9 1069.6L1449.6 1069.7L1450.3 1068.9L1451.0 1067.9L1451.7 1067.9L1452.4 1066.8L1453.1 1065.8L1453.8 1064.1L1454.5 1062.7L1455.2 1062.5L1455.9 1060.5L1456.6 1060.4L1457.3 1059.6L1458.0 1061.1L1458.7 1062.1L1459.4 1063.4L1460.1 1065.0L1460.8 1065.4L1461.5 1066.8L1462.2 1066.9L1462.9 1067.2L1463.6 1066.6L1464.3 1068.1L1465.0 1068.5L1465.7 1068.1L1466.4 1068.8L1467.1 1068.7L1467.8 1070.1L1468.5 1070.3L1469.2 1071.6L1469.9 1071.8L1470.6 1072.5L1471.3 1071.9L1472.0 1071.4L1472.7 1072.0L1473.4 1071.3L1474.1 1072.3L1474.8 1071.1L1475.5 1071.4L1476.2 1070.8L1476.9 1070.2L1477.6 1069.5L1478.3 1070.1L1479.0 1070.3L1479.7 1069.8L1480.4 1069.8L1481.1 1069.6L1481.8 1068.8L1482.5 1069.9L1483.2 1069.6L1483.9 1070.5L1484.6 1071.6L1485.3 1070.2L1486.0 1071.3L1486.7 1071.7L1487.4 1071.9L1488.1 1071.1L1488.8 1070.2L1489.5 1070.6L1490.2 1070.1L1490.9 1068.6L1491.6 1069.4L1492.3 1068.5L1493.0 1068.0L1493.7 1069.0L1494.4 1069.1L1495.1 1068.6L1495.8 1070.6L1496.5 1068.9L1497.2 1069.6L1497.9 1069.6L1498.6 1070.2L1499.3 1068.9L1500.0 1069.9L1500.7 1068.6L1501.4 1069.3L1502.1 1069.3L1502.8 1069.1L1503.5 1069.9L1504.2 1070.6L1504.9 1070.4L1505.6 1069.3L1506.3 1068.0L1507.0 1067.9L1507.7 1068.5L1508.4 1068.4L1509.1 1068.4L1509.8 1067.9L1510.5 1067.4L1511.2 1067.9L1511.9 1067.5L1512.6 1068.0L1513.3 1066.8L1514.0 1067.5L1514.7 1067.8L1515.4 1068.3L1516.1 1068.6L1516.8 1067.4L1517.5 1067.6L1518.2 1068.4L1518.9 1067.9L1519.6 1067.1L1520.3 1068.9L1521.0 1068.3L1521.7 1068.5L1522.4 1068.1L1523.1 1068.6L1523.8 1068.2L1524.5 1068.1L1525.2 1069.0L1525.9 1067.4L1526.6 1068.2L1527.3 1067.1L1528.0 1068.6L1528.7 1067.8L1529.4 1067.3L1530.1 1067.0L1530.8 1067.8L1531.5 1068.8L1532.2 1068.1L1532.9 1067.1L1533.6 1066.9L1534.3 1069.2L1535.0 1067.4L1535.7 1066.7L1536.4 1067.1L1537.1 1066.8L1537.8 1066.7L1538.5 1065.4L1539.2 1064.9L1539.9 1065.5L1540.6 1065.0L1541.3 1065.9L1542.0 1066.2L1542.7 1067.0L1543.4 1066.5L1544.1 1066.8L1544.8 1067.3L1545.5 1067.4L1546.2 1066.2L1546.9 1066.2L1547.6 1066.4L1548.3 1065.9L1549.0 1067.0L1549.7 1066.3L1550.4 1066.7L1551.1 1066.3L1551.8 1066.5L1552.5 1066.5L1553.2 1067.0L1553.9 1066.3L1554.6 1067.3L1555.3 1066.3L1556.0 1067.3L1556.7 1067.3L1557.4 1067.4L1558.1 1068.6L1558.8 1068.7L1559.5 1068.4L1560.2 1068.4L1560.9 1069.3L1561.6 1068.7L1562.3 1069.4L1563.0 1068.6L1563.7 1068.8L1564.4 1068.1L1565.1 1068.0L1565.8 1068.5L1566.5 1068.1L1567.2 1066.8L1567.9 1066.6L1568.6 1065.8L1569.3 1066.6L1570.0 1066.9L1570.7 1066.0L1571.4 1066.1L1572.1 1066.8L1572.8 1066.4L1573.5 1066.7L1574.2 1067.0L1574.9 1066.1L1575.6 1065.6L1576.3 1065.5L1577.0 1064.1L1577.7 1063.7L1578.4 1063.0L1579.1 1062.2L1579.8 1062.9L1580.5 1061.2L1581.2 1061.5L1581.9 1060.6L1582.6 1060.4L1583.3 1059.8L1584.0 1060.0L1584.7 1060.2L1585.4 1060.5L1586.1 1059.1L1586.8 1060.1L1587.5 1059.8L1588.2 1059.6L1588.9 1059.7L1589.6 1059.7L1590.3 1059.5L1591.0 1059.5L1591.7 1060.5L1592.4 1059.6L1593.1 1059.8L1593.8 1059.2L1594.5 1060.2L1595.2 1059.6L1595.9 1059.9L1596.6 1059.7L1597.3 1060.2L1598.0 1060.1L1598.7 1060.3L1599.4 1060.7L1600.1 1061.5L1600.8 1062.2L1601.5 1062.9L1602.2 1063.8L1602.9 1064.4L1603.6 1063.9L1604.3 1064.3L1605.0 1065.3L1605.7 1064.9L1606.4 1065.9L1607.1 1066.0L1607.8 1065.1L1608.5 1065.8L1609.2 1066.0L1609.9 1065.5L1610.6 1065.2L1611.3 1065.4L1612.0 1066.0L1612.7 1066.0L1613.4 1066.9L1614.1 1067.2L1614.8 1067.4L1615.5 1067.6L1616.2 1068.4L1616.9 1067.9L1617.6 1068.4L1618.3 1067.4L1619.0 1068.0L1619.7 1068.1L1620.4 1068.2L1621.1 1068.6L1621.8 1068.7L1622.5 1069.1L1623.2 1069.3L1623.9 1069.4L1624.6 1069.7L1625.3 1070.1L1626.0 1070.5L1626.7 1070.8L1627.4 1070.3L1628.1 1070.1L1628.8 1070.1L1629.5 1069.5L1630.2 1069.5L1630.9 1069.3L1631.6 1069.3L1632.3 1069.2L1633.0 1068.7L1633.7 1069.1L1634.4 1068.9L1635.1 1069.8L1635.8 1069.4L1636.5 1068.3L1637.2 1068.0L1637.9 1068.1L1638.6 1067.3L1639.3 1068.4L1640.0 1067.8L1640.7 1067.5L1641.4 1068.1L1642.1 1068.1L1642.8 1067.5L1643.5 1067.7L1644.2 1066.5L1644.9 1066.8L1645.6 1066.7L1646.3 1066.4L1647.0 1067.4L1647.7 1068.0L1648.4 1066.5L1649.1 1066.7L1649.8 1067.3L1650.5 1066.6L1651.2 1066.5L1651.9 1066.0L1652.6 1066.1L1653.3 1065.2L1654.0 1065.5L1654.7 1065.1L1655.4 1064.8L1656.1 1064.3L1656.8 1064.8L1657.5 1065.5L1658.2 1065.5L1658.9 1066.0L1659.6 1066.0L1660.3 1067.0L1661.0 1067.3L1661.7 1067.6L1662.4 1066.3L1663.1 1065.5L1663.8 1065.9L1664.5 1065.0L1665.2 1063.4L1665.9 1063.1L1666.6 1062.2L1667.3 1062.7L1668.0 1063.0L1668.7 1062.6L1669.4 1061.5L1670.1 1061.5L1670.8 1060.3L1671.5 1059.8L1672.2 1058.2L1672.9 1057.0L1673.6 1054.8L1674.3 1050.6L1675.0 1044.6L1675.7 1035.2L1676.4 1021.4L1677.1 1002.3L1677.8 979.7L1678.5 957.5L1679.2 944.1L1679.9 946.3L1680.6 961.8L1681.3 981.0L1682.0 997.1L1682.7 1007.8L1683.4 1010.3L1684.1 1008.0L1684.8 1002.9L1685.5 998.8L1686.2 999.5L1686.9 1006.1L1687.6 1016.5L1688.3 1027.6L1689.0 1037.7L1689.7 1047.6L1690.4 1052.2L1691.1 1056.9L1691.8 1059.8L1692.5 1061.4L1693.2 1064.2L1693.9 1065.0L1694.6 1065.8L1695.3 1067.3L1696.0 1067.6L1696.7 1068.6L1697.4 1068.4L1698.1 1069.3L1698.8 1069.8L1699.5 1069.5L1700.2 1069.1L1700.9 1069.2L1701.6 1069.7L1702.3 1068.6L1703.0 1068.6L1703.7 1069.5L1704.4 1069.6L1705.1 1070.1L1705.8 1070.5L1706.5 1071.4L1707.2 1071.9L1707.9 1071.9L1708.6 1071.1L1709.3 1072.0L1710.0 1071.1L1710.7 1072.4L1711.4 1071.4L1712.1 1071.7L1712.8 1071.4L1713.5 1070.8L1714.2 1071.3L1714.9 1070.7L1715.6 1071.5L1716.3 1071.0L1717.0 1071.2L1717.7 1072.4L1718.4 1072.2L1719.1 1071.9L1719.8 1071.6L1720.5 1072.5L1721.2 1071.9L1721.9 1071.5L1722.6 1070.5L1723.3 1070.0L1724.0 1069.5L1724.7 1070.1L1725.4 1069.5L1726.1 1069.9L1726.8 1068.9L1727.5 1070.3L1728.2 1069.8L1728.9 1069.3L1729.6 1070.1L1730.3 1071.1L1731.0 1071.8L1731.7 1070.3L1732.4 1071.0L1733.1 1071.7L1733.8 1071.0L1734.5 1071.4L1735.2 1071.1L1735.9 1071.6L1736.6 1071.0L1737.3 1071.5L1738.0 1071.3L1738.7 1071.7L1739.4 1071.5L1740.1 1071.8L1740.8 1071.4L1741.5 1072.0L1742.2 1070.7L1742.9 1071.3L1743.6 1071.7L1744.3 1071.3L1745.0 1070.0L1745.7 1070.9L1746.4 1070.2L1747.1 1071.2L1747.8 1070.1L1748.5 1070.6L1749.2 1070.4L1749.9 1071.5L1750.6 1070.6L1751.3 1071.8L1752.0 1072.4L1752.7 1072.1L1753.4 1073.2L1754.1 1072.7L1754.8 1073.3L1755.5 1071.9L1756.2 1072.0L1756.9 1072.5L1757.6 1072.0L1758.3 1072.5L1759.0 1072.5L1759.7 1071.9L1760.4 1072.2L1761.1 1072.3L1761.8 1072.1L1762.5 1071.9L1763.2 1072.0L1763.9 1072.4L1764.6 1073.3L1765.3 1074.2L1766.0 1073.1L1766.7 1073.4L1767.4 1073.8L1768.1 1074.3L1768.8 1073.3L1769.5 1074.4L1770.2 1074.1L1770.9 1072.1L1771.6 1073.1L1772.3 1072.9L1773.0 1072.4L1773.7 1071.6L1774.4 1072.3L1775.1 1072.0L1775.8 1072.5L1776.5 1072.1L1777.2 1071.4L1777.9 1072.4L1778.6 1072.1L1779.3 1071.6L1780.0 1070.7L1780.7 1070.7L1781.4 1070.0L1782.1 1069.6L1782.8 1069.1L1783.5 1070.1L1784.2 1069.5L1784.9 1070.8L1785.6 1070.3L1786.3 1071.2L1787.0 1071.2L1787.7 1071.1L1788.4 1071.3L1789.1 1071.7L1789.8 1072.7L1790.5 1072.4L1791.2 1072.3L1791.9 1072.8L1792.6 1072.0L1793.3 1071.7L1794.0 1071.8L1794.7 1072.3L1795.4 1071.5L1796.1 1071.4L1796.8 1071.2L1797.5 1070.9L1798.2 1071.6L1798.9 1071.5L1799.6 1071.0L1800.3 1071.2L1801.0 1071.7L1801.7 1071.5L1802.4 1071.7L1803.1 1071.8L1803.8 1071.3L1804.5 1071.1L1805.2 1070.7L1805.9 1070.5L1806.6 1070.4L1807.3 1071.2L1808.0 1070.4L1808.7 1070.7L1809.4 1070.7L1810.1 1070.7L1810.8 1070.4L1811.5 1069.9L1812.2 1071.3L1812.9 1070.2L1813.6 1071.0L1814.3 1070.5L1815.0 1071.4L1815.7 1070.9L1816.4 1072.0L1817.1 1071.5L1817.8 1070.8L1818.5 1072.2L1819.2 1070.9L1819.9 1071.6L1820.6 1072.1L1821.3 1071.5L1822.0 1072.0L1822.7 1071.3L1823.4 1070.9L1824.1 1071.4L1824.8 1070.7L1825.5 1070.2L1826.2 1070.5L1826.9 1069.9L1827.6 1069.3L1828.3 1069.3L1829.0 1070.4L1829.7 1070.0L1830.4 1068.2L1831.1 1068.7L1831.8 1068.4L1832.5 1067.5L1833.2 1067.5L1833.9 1066.6L1834.6 1066.6L1835.3 1066.7L1836.0 1065.4L1836.7 1064.0L1837.4 1061.5L1838.1 1056.8L1838.8 1050.2L1839.5 1040.3L1840.2 1027.5L1840.9 1013.2L1841.6 1002.5L1842.3 1000.3L1843.0 1008.0L1843.7 1019.2L1844.4 1028.8L1845.1 1034.2L1845.8 1036.2L1846.5 1035.3L1847.2 1034.8L1847.9 1037.0L1848.6 1042.0L1849.3 1048.2L1850.0 1053.9L1850.7 1060.1L1851.4 1063.8L1852.1 1066.0L1852.8 1067.7L1853.5 1068.6L1854.2 1069.2L1854.9 1070.0L1855.6 1070.5L1856.3 1069.8L1857.0 1070.0L1857.7 1070.2L1858.4 1069.4L1859.1 1070.7L1859.8 1070.5L1860.5 1071.3L1861.2 1070.8L1861.9 1070.7L1862.6 1071.0L1863.3 1071.1L1864.0 1070.7L1864.7 1071.6L1865.4 1071.7L1866.1 1071.5L1866.8 1072.3L1867.5 1072.1L1868.2 1072.0L1868.9 1071.6L1869.6 1071.1L1870.3 1070.8L1871.0 1071.3L1871.7 1071.4L1872.4 1071.8L1873.1 1071.6L1873.8 1072.2L1874.5 1072.6L1875.2 1071.9L1875.9 1072.6L1876.6 1073.5L1877.3 1072.6L1878.0 1072.7L1878.7 1072.7L1879.4 1072.4L1880.1 1072.8L1880.8 1072.3L1881.5 1072.2L1882.2 1071.7L1882.9 1072.1L1883.6 1071.7L1884.3 1071.5L1885.0 1071.7L1885.7 1072.6L1886.4 1072.1L1887.1 1072.3L1887.8 1072.7L1888.5 1072.1L1889.2 1072.3L1889.9 1071.4L1890.6 1071.9L1891.3 1070.9L1892.0 1071.8L1892.7 1071.8L1893.4 1071.8L1894.1 1072.6L1894.8 1072.6L1895.5 1072.8L1896.2 1073.2L1896.9 1072.9L1897.6 1072.9L1898.3 1072.5L1899.0 1073.0L1899.7 1072.2L1900.4 1071.2L1901.1 1070.9L1901.8 1070.7L1902.5 1070.8L1903.2 1071.9L1903.9 1072.0L1904.6 1072.9L1905.3 1072.9L1906.0 1073.3L1906.7 1074.4L1907.4 1073.3L1908.1 1073.6L1908.8 1073.3L1909.5 1073.8L1910.2 1075.0L1910.9 1073.6L1911.6 1074.2L1912.3 1074.2L1913.0 1073.1L1913.7 1072.9L1914.4 1073.2L1915.1 1073.3L1915.8 1072.5L1916.5 1072.8L1917.2 1073.7L1917.9 1072.8L1918.6 1073.2L1919.3 1073.5L1920.0 1073.2L1920.7 1073.5L1921.4 1073.5L1922.1 1073.7L1922.8 1073.8L1923.5 1073.4L1924.2 1073.8L1924.9 1073.8L1925.6 1074.0L1926.3 1073.4L1927.0 1073.2L1927.7 1074.2L1928.4 1073.6L1929.1 1073.7L1929.8 1073.8L1930.5 1074.1L1931.2 1073.9L1931.9 1074.0L1932.6 1073.7L1933.3 1073.5L1934.0 1073.6L1934.7 1073.1L1935.4 1074.1L1936.1 1072.9L1936.8 1073.9L1937.5 1073.3L1938.2 1073.5L1938.9 1073.9L1939.6 1073.0L1940.3 1074.6L1941.0 1074.5L1941.7 1074.5L1942.4 1074.7L1943.1 1075.3L1943.8 1074.8L1944.5 1076.2L1945.2 1075.7L1945.9 1076.1L1946.6 1075.8L1947.3 1075.4L1948.0 1075.1L1948.7 1074.7" fill="none" stroke="#0505e6" stroke-width="4.4" stroke-linejoin="round"/><g stroke-linecap="butt"><line x1="198" y1="50" x2="198" y2="1503" stroke="#1c1c1c" stroke-width="4"/><line x1="198" y1="384.6" x2="1951" y2="384.6" stroke="#1c1c1c" stroke-width="4"/><line x1="489.8" y1="384.6" x2="489.8" y2="396.6" stroke="#1c1c1c" stroke-width="4"/><line x1="781.7" y1="384.6" x2="781.7" y2="408.6" stroke="#1c1c1c" stroke-width="4"/><line x1="1073.5" y1="384.6" x2="1073.5" y2="396.6" stroke="#1c1c1c" stroke-width="4"/><line x1="1365.3" y1="384.6" x2="1365.3" y2="408.6" stroke="#1c1c1c" stroke-width="4"/><line x1="1657.2" y1="384.6" x2="1657.2" y2="396.6" stroke="#1c1c1c" stroke-width="4"/><line x1="1949.0" y1="384.6" x2="1949.0" y2="408.6" stroke="#1c1c1c" stroke-width="4"/><line x1="198" y1="748.6" x2="1951" y2="748.6" stroke="#1c1c1c" stroke-width="4"/><line x1="489.8" y1="748.6" x2="489.8" y2="760.6" stroke="#1c1c1c" stroke-width="4"/><line x1="781.7" y1="748.6" x2="781.7" y2="772.6" stroke="#1c1c1c" stroke-width="4"/><line x1="1073.5" y1="748.6" x2="1073.5" y2="760.6" stroke="#1c1c1c" stroke-width="4"/><line x1="1365.3" y1="748.6" x2="1365.3" y2="772.6" stroke="#1c1c1c" stroke-width="4"/><line x1="1657.2" y1="748.6" x2="1657.2" y2="760.6" stroke="#1c1c1c" stroke-width="4"/><line x1="1949.0" y1="748.6" x2="1949.0" y2="772.6" stroke="#1c1c1c" stroke-width="4"/><line x1="198" y1="1112.8" x2="1951" y2="1112.8" stroke="#1c1c1c" stroke-width="4"/><line x1="489.8" y1="1112.8" x2="489.8" y2="1124.8" stroke="#1c1c1c" stroke-width="4"/><line x1="781.7" y1="1112.8" x2="781.7" y2="1136.8" stroke="#1c1c1c" stroke-width="4"/><line x1="1073.5" y1="1112.8" x2="1073.5" y2="1124.8" stroke="#1c1c1c" stroke-width="4"/><line x1="1365.3" y1="1112.8" x2="1365.3" y2="1136.8" stroke="#1c1c1c" stroke-width="4"/><line x1="1657.2" y1="1112.8" x2="1657.2" y2="1124.8" stroke="#1c1c1c" stroke-width="4"/><line x1="1949.0" y1="1112.8" x2="1949.0" y2="1136.8" stroke="#1c1c1c" stroke-width="4"/><line x1="172" y1="1478.4" x2="1951" y2="1478.4" stroke="#1c1c1c" stroke-width="4"/><line x1="198.0" y1="1478.4" x2="198.0" y2="1503.4" stroke="#1c1c1c" stroke-width="4"/><line x1="343.9" y1="1478.4" x2="343.9" y2="1491.4" stroke="#1c1c1c" stroke-width="4"/><line x1="489.8" y1="1478.4" x2="489.8" y2="1503.4" stroke="#1c1c1c" stroke-width="4"/><line x1="635.8" y1="1478.4" x2="635.8" y2="1491.4" stroke="#1c1c1c" stroke-width="4"/><line x1="781.7" y1="1478.4" x2="781.7" y2="1503.4" stroke="#1c1c1c" stroke-width="4"/><line x1="927.6" y1="1478.4" x2="927.6" y2="1491.4" stroke="#1c1c1c" stroke-width="4"/><line x1="1073.5" y1="1478.4" x2="1073.5" y2="1503.4" stroke="#1c1c1c" stroke-width="4"/><line x1="1219.4" y1="1478.4" x2="1219.4" y2="1491.4" stroke="#1c1c1c" stroke-width="4"/><line x1="1365.3" y1="1478.4" x2="1365.3" y2="1503.4" stroke="#1c1c1c" stroke-width="4"/><line x1="1511.2" y1="1478.4" x2="1511.2" y2="1491.4" stroke="#1c1c1c" stroke-width="4"/><line x1="1657.2" y1="1478.4" x2="1657.2" y2="1503.4" stroke="#1c1c1c" stroke-width="4"/><line x1="1803.1" y1="1478.4" x2="1803.1" y2="1491.4" stroke="#1c1c1c" stroke-width="4"/><line x1="1949.0" y1="1478.4" x2="1949.0" y2="1503.4" stroke="#1c1c1c" stroke-width="4"/><line x1="172" y1="356.8" x2="198" y2="356.8" stroke="#1c1c1c" stroke-width="4"/><line x1="172" y1="300.6" x2="198" y2="300.6" stroke="#1c1c1c" stroke-width="4"/><line x1="172" y1="244.4" x2="198" y2="244.4" stroke="#1c1c1c" stroke-width="4"/><line x1="172" y1="188.2" x2="198" y2="188.2" stroke="#1c1c1c" stroke-width="4"/><line x1="172" y1="132.0" x2="198" y2="132.0" stroke="#1c1c1c" stroke-width="4"/><line x1="172" y1="75.8" x2="198" y2="75.8" stroke="#1c1c1c" stroke-width="4"/><line x1="184.5" y1="328.7" x2="198" y2="328.7" stroke="#1c1c1c" stroke-width="4"/><line x1="184.5" y1="272.5" x2="198" y2="272.5" stroke="#1c1c1c" stroke-width="4"/><line x1="184.5" y1="216.3" x2="198" y2="216.3" stroke="#1c1c1c" stroke-width="4"/><line x1="184.5" y1="160.1" x2="198" y2="160.1" stroke="#1c1c1c" stroke-width="4"/><line x1="184.5" y1="103.9" x2="198" y2="103.9" stroke="#1c1c1c" stroke-width="4"/><line x1="184.5" y1="384.6" x2="198" y2="384.6" stroke="#1c1c1c" stroke-width="4"/><line x1="172" y1="748.6" x2="198" y2="748.6" stroke="#1c1c1c" stroke-width="4"/><line x1="172" y1="711.1" x2="198" y2="711.1" stroke="#1c1c1c" stroke-width="4"/><line x1="172" y1="673.5" x2="198" y2="673.5" stroke="#1c1c1c" stroke-width="4"/><line x1="172" y1="636.0" x2="198" y2="636.0" stroke="#1c1c1c" stroke-width="4"/><line x1="172" y1="598.4" x2="198" y2="598.4" stroke="#1c1c1c" stroke-width="4"/><line x1="172" y1="560.9" x2="198" y2="560.9" stroke="#1c1c1c" stroke-width="4"/><line x1="172" y1="523.3" x2="198" y2="523.3" stroke="#1c1c1c" stroke-width="4"/><line x1="172" y1="485.8" x2="198" y2="485.8" stroke="#1c1c1c" stroke-width="4"/><line x1="172" y1="448.2" x2="198" y2="448.2" stroke="#1c1c1c" stroke-width="4"/><line x1="172" y1="410.7" x2="198" y2="410.7" stroke="#1c1c1c" stroke-width="4"/><line x1="184.5" y1="729.8" x2="198" y2="729.8" stroke="#1c1c1c" stroke-width="4"/><line x1="184.5" y1="692.3" x2="198" y2="692.3" stroke="#1c1c1c" stroke-width="4"/><line x1="184.5" y1="654.7" x2="198" y2="654.7" stroke="#1c1c1c" stroke-width="4"/><line x1="184.5" y1="617.2" x2="198" y2="617.2" stroke="#1c1c1c" stroke-width="4"/><line x1="184.5" y1="579.6" x2="198" y2="579.6" stroke="#1c1c1c" stroke-width="4"/><line x1="184.5" y1="542.1" x2="198" y2="542.1" stroke="#1c1c1c" stroke-width="4"/><line x1="184.5" y1="504.5" x2="198" y2="504.5" stroke="#1c1c1c" stroke-width="4"/><line x1="184.5" y1="467.0" x2="198" y2="467.0" stroke="#1c1c1c" stroke-width="4"/><line x1="184.5" y1="429.4" x2="198" y2="429.4" stroke="#1c1c1c" stroke-width="4"/><line x1="172" y1="1112.8" x2="198" y2="1112.8" stroke="#1c1c1c" stroke-width="4"/><line x1="172" y1="1080.8" x2="198" y2="1080.8" stroke="#1c1c1c" stroke-width="4"/><line x1="172" y1="1048.7" x2="198" y2="1048.7" stroke="#1c1c1c" stroke-width="4"/><line x1="172" y1="1016.6" x2="198" y2="1016.6" stroke="#1c1c1c" stroke-width="4"/><line x1="172" y1="984.6" x2="198" y2="984.6" stroke="#1c1c1c" stroke-width="4"/><line x1="172" y1="952.5" x2="198" y2="952.5" stroke="#1c1c1c" stroke-width="4"/><line x1="172" y1="920.5" x2="198" y2="920.5" stroke="#1c1c1c" stroke-width="4"/><line x1="172" y1="888.5" x2="198" y2="888.5" stroke="#1c1c1c" stroke-width="4"/><line x1="172" y1="856.4" x2="198" y2="856.4" stroke="#1c1c1c" stroke-width="4"/><line x1="172" y1="824.3" x2="198" y2="824.3" stroke="#1c1c1c" stroke-width="4"/><line x1="172" y1="792.3" x2="198" y2="792.3" stroke="#1c1c1c" stroke-width="4"/><line x1="184.5" y1="1096.8" x2="198" y2="1096.8" stroke="#1c1c1c" stroke-width="4"/><line x1="184.5" y1="1064.7" x2="198" y2="1064.7" stroke="#1c1c1c" stroke-width="4"/><line x1="184.5" y1="1032.7" x2="198" y2="1032.7" stroke="#1c1c1c" stroke-width="4"/><line x1="184.5" y1="1000.6" x2="198" y2="1000.6" stroke="#1c1c1c" stroke-width="4"/><line x1="184.5" y1="968.6" x2="198" y2="968.6" stroke="#1c1c1c" stroke-width="4"/><line x1="184.5" y1="936.5" x2="198" y2="936.5" stroke="#1c1c1c" stroke-width="4"/><line x1="184.5" y1="904.5" x2="198" y2="904.5" stroke="#1c1c1c" stroke-width="4"/><line x1="184.5" y1="872.4" x2="198" y2="872.4" stroke="#1c1c1c" stroke-width="4"/><line x1="184.5" y1="840.4" x2="198" y2="840.4" stroke="#1c1c1c" stroke-width="4"/><line x1="184.5" y1="808.3" x2="198" y2="808.3" stroke="#1c1c1c" stroke-width="4"/><line x1="184.5" y1="776.3" x2="198" y2="776.3" stroke="#1c1c1c" stroke-width="4"/><line x1="172" y1="1478.4" x2="198" y2="1478.4" stroke="#1c1c1c" stroke-width="4"/><line x1="172" y1="1444.5" x2="198" y2="1444.5" stroke="#1c1c1c" stroke-width="4"/><line x1="172" y1="1410.6" x2="198" y2="1410.6" stroke="#1c1c1c" stroke-width="4"/><line x1="172" y1="1376.6" x2="198" y2="1376.6" stroke="#1c1c1c" stroke-width="4"/><line x1="172" y1="1342.7" x2="198" y2="1342.7" stroke="#1c1c1c" stroke-width="4"/><line x1="172" y1="1308.8" x2="198" y2="1308.8" stroke="#1c1c1c" stroke-width="4"/><line x1="172" y1="1274.9" x2="198" y2="1274.9" stroke="#1c1c1c" stroke-width="4"/><line x1="172" y1="1241.0" x2="198" y2="1241.0" stroke="#1c1c1c" stroke-width="4"/><line x1="172" y1="1207.0" x2="198" y2="1207.0" stroke="#1c1c1c" stroke-width="4"/><line x1="172" y1="1173.1" x2="198" y2="1173.1" stroke="#1c1c1c" stroke-width="4"/><line x1="172" y1="1139.2" x2="198" y2="1139.2" stroke="#1c1c1c" stroke-width="4"/><line x1="184.5" y1="1461.4" x2="198" y2="1461.4" stroke="#1c1c1c" stroke-width="4"/><line x1="184.5" y1="1427.5" x2="198" y2="1427.5" stroke="#1c1c1c" stroke-width="4"/><line x1="184.5" y1="1393.6" x2="198" y2="1393.6" stroke="#1c1c1c" stroke-width="4"/><line x1="184.5" y1="1359.7" x2="198" y2="1359.7" stroke="#1c1c1c" stroke-width="4"/><line x1="184.5" y1="1325.8" x2="198" y2="1325.8" stroke="#1c1c1c" stroke-width="4"/><line x1="184.5" y1="1291.8" x2="198" y2="1291.8" stroke="#1c1c1c" stroke-width="4"/><line x1="184.5" y1="1257.9" x2="198" y2="1257.9" stroke="#1c1c1c" stroke-width="4"/><line x1="184.5" y1="1224.0" x2="198" y2="1224.0" stroke="#1c1c1c" stroke-width="4"/><line x1="184.5" y1="1190.1" x2="198" y2="1190.1" stroke="#1c1c1c" stroke-width="4"/><line x1="184.5" y1="1156.2" x2="198" y2="1156.2" stroke="#1c1c1c" stroke-width="4"/></g><g font-family="Liberation Sans, Arial, sans-serif" font-size="46" fill="#2a2a2a" stroke="#2a2a2a" stroke-width="1"><text x="198.0" y="1553" text-anchor="middle">20</text><text x="489.8" y="1553" text-anchor="middle">30</text><text x="781.7" y="1553" text-anchor="middle">40</text><text x="1073.5" y="1553" text-anchor="middle">50</text><text x="1365.3" y="1553" text-anchor="middle">60</text><text x="1657.2" y="1553" text-anchor="middle">70</text><text x="1949.0" y="1553" text-anchor="middle">80</text></g><rect x="419.9" y="1354.8" width="24.5" height="24.5" fill="#000"/><rect x="615.2" y="1364.2" width="24.5" height="24.5" fill="#000"/><circle cx="641.0" cy="1386.0" r="13.4" fill="#fa0404"/><circle cx="737.0" cy="1427.9" r="13.4" fill="#fa0404"/><rect x="772.2" y="1423.5" width="24.5" height="24.5" fill="#000"/><circle cx="790.5" cy="1310.1" r="13.4" fill="#fa0404"/><polygon points="764.8,1320.2 798.2,1320.2 781.5,1290.8" fill="#0000f0"/><polygon points="956.5,1438.8 990.0,1438.8 973.2,1409.3" fill="#0000f0"/><circle cx="1164.0" cy="1377.5" r="13.4" fill="#fa0404"/><rect x="1179.5" y="1398.8" width="24.5" height="24.5" fill="#000"/><circle cx="1456.6" cy="1402.4" r="13.4" fill="#fa0404"/><polygon points="1579.5,1462.3 1613.0,1462.3 1596.2,1432.8" fill="#0000f0"/><circle cx="1680.9" cy="1377.2" r="13.4" fill="#fa0404"/><circle cx="1844.8" cy="1394.5" r="13.4" fill="#fa0404"/><circle cx="1878.7" cy="1411.3" r="13.4" fill="#fa0404"/><rect x="1409" y="1150.6" width="584.7" height="188.5" fill="#fefefe" stroke="#8a8a8a" stroke-width="3"/><rect x="1465.7" y="1172.8" width="23.5" height="23.5" fill="#000"/><circle cx="1477.8" cy="1246.2" r="14.3" fill="#fa0404"/><polygon points="1460.5,1318.7 1494.0,1318.7 1477.2,1289.3" fill="#0000f0"/><g font-family="Liberation Sans, Arial, sans-serif" font-size="50.5" fill="#222" stroke="#222" stroke-width="1"><text x="1546" y="1201.5" textLength="441" lengthAdjust="spacingAndGlyphs">IrO2 (00-043-1019)</text><text x="1549" y="1263.5" textLength="382" lengthAdjust="spacingAndGlyphs">Ti (01-089-5009)</text><text x="1547" y="1325.3" textLength="388" lengthAdjust="spacingAndGlyphs">Pt (00-001-1194)</text></g><text x="1055" y="1214" font-family="Liberation Sans, Arial, sans-serif" font-size="53" fill="#222" stroke="#222" stroke-width="0.6">E</text><g font-family="Liberation Sans, Arial, sans-serif" font-size="70" fill="#141414"><text x="1308" y="85" textLength="664" lengthAdjust="spacingAndGlyphs">IrOx/Pt ratio- 300/0</text><text x="1221" y="497" textLength="748" lengthAdjust="spacingAndGlyphs">IrOx/Pt ratio- 200/100</text><text x="1225" y="867" textLength="748" lengthAdjust="spacingAndGlyphs">IrOx/Pt ratio- 100/200</text></g><text transform="translate(92,1128) rotate(-90)" font-family="Liberation Sans, Arial, sans-serif" font-weight="bold" font-size="100" fill="#000" textLength="669" lengthAdjust="spacingAndGlyphs">Intensity (a.u.)</text><g font-family="Liberation Sans, Arial, sans-serif" font-weight="bold" font-size="100" fill="#000"><text x="948" y="1719">2</text><text x="1029" y="1719" transform="translate(1029,0) scale(1.04,1) translate(-1029,0)">θ</text><text transform="translate(1092,1719) scale(0.78,1)">(</text><text x="1120" y="1727" font-size="112">°</text><text transform="translate(1168.5,1719) scale(0.84,1)">)</text></g></g></svg></body></html>
